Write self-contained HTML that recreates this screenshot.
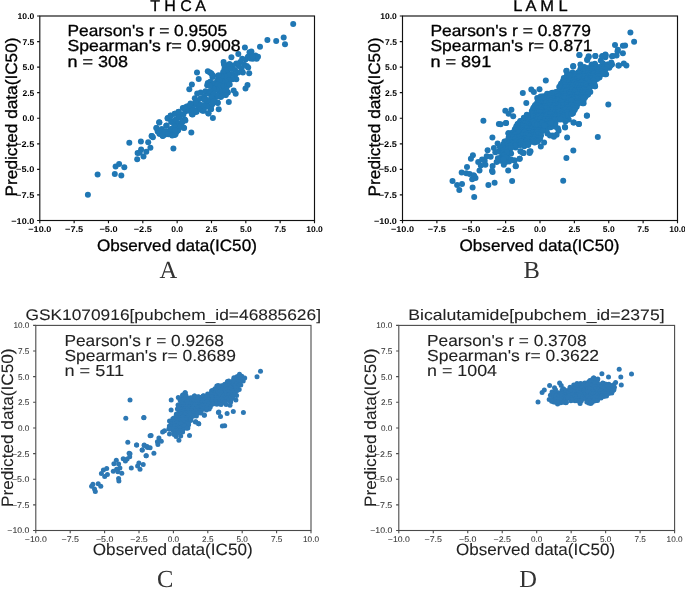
<!DOCTYPE html><html><head><meta charset="utf-8"><title>scatter</title><style>html,body{margin:0;padding:0;background:#fff}svg{display:block;will-change:transform}text{text-rendering:geometricPrecision;font-family:"Liberation Sans",sans-serif}.s{font-family:"Liberation Serif",serif}</style></head><body>
<svg width="685" height="593" viewBox="0 0 685 593">
<rect width="685" height="593" fill="#fff"/>
<g id="pA">
<clipPath id="cA"><rect x="39.8" y="16.0" width="274.7" height="204.5"/></clipPath>
<g fill="#1f77b4" clip-path="url(#cA)"><circle cx="87.9" cy="194.7" r="3.0"/><circle cx="97.6" cy="174.6" r="3.0"/><circle cx="114.8" cy="174.1" r="3.0"/><circle cx="121.3" cy="175.5" r="3.0"/><circle cx="115.6" cy="166.4" r="3.0"/><circle cx="119.1" cy="164.0" r="3.0"/><circle cx="124.3" cy="167.2" r="3.0"/><circle cx="129.3" cy="142.8" r="3.0"/><circle cx="137.2" cy="159.2" r="3.0"/><circle cx="143.5" cy="156.4" r="3.0"/><circle cx="137.6" cy="152.9" r="3.0"/><circle cx="139.7" cy="152.7" r="3.0"/><circle cx="141.1" cy="149.5" r="3.0"/><circle cx="146.3" cy="151.7" r="3.0"/><circle cx="150.4" cy="147.7" r="3.0"/><circle cx="140.9" cy="141.6" r="3.0"/><circle cx="148.2" cy="142.2" r="3.0"/><circle cx="151.6" cy="135.9" r="3.0"/><circle cx="152.9" cy="137.3" r="3.0"/><circle cx="173.4" cy="148.6" r="3.0"/><circle cx="159.9" cy="133.7" r="3.0"/><circle cx="162.8" cy="135.9" r="3.0"/><circle cx="165.0" cy="134.4" r="3.0"/><circle cx="171.6" cy="134.4" r="3.0"/><circle cx="174.6" cy="135.1" r="3.0"/><circle cx="176.8" cy="131.5" r="3.0"/><circle cx="168.0" cy="131.5" r="3.0"/><circle cx="157.7" cy="131.5" r="3.0"/><circle cx="197.0" cy="72.6" r="3.0"/><circle cx="198.7" cy="79.1" r="3.0"/><circle cx="191.9" cy="84.5" r="3.0"/><circle cx="189.3" cy="89.2" r="3.0"/><circle cx="159.2" cy="122.3" r="3.0"/><circle cx="156.5" cy="128.1" r="3.0"/><circle cx="191.3" cy="132.5" r="3.0"/><circle cx="212.9" cy="118.0" r="3.0"/><circle cx="218.7" cy="109.3" r="3.0"/><circle cx="228.8" cy="102.1" r="3.0"/><circle cx="151.8" cy="136.1" r="3.0"/><circle cx="159.4" cy="133.7" r="3.0"/><circle cx="163.0" cy="135.5" r="3.0"/><circle cx="165.3" cy="131.4" r="3.0"/><circle cx="161.8" cy="129.0" r="3.0"/><circle cx="166.5" cy="125.5" r="3.0"/><circle cx="170.1" cy="133.7" r="3.0"/><circle cx="173.6" cy="134.3" r="3.0"/><circle cx="172.4" cy="129.0" r="3.0"/><circle cx="177.1" cy="130.2" r="3.0"/><circle cx="175.4" cy="125.5" r="3.0"/><circle cx="171.2" cy="121.9" r="3.0"/><circle cx="167.7" cy="118.1" r="3.0"/><circle cx="170.6" cy="115.4" r="3.0"/><circle cx="174.8" cy="113.7" r="3.0"/><circle cx="178.3" cy="111.9" r="3.0"/><circle cx="178.9" cy="117.2" r="3.0"/><circle cx="181.9" cy="121.9" r="3.0"/><circle cx="183.6" cy="127.8" r="3.0"/><circle cx="179.5" cy="125.5" r="3.0"/><circle cx="176.0" cy="120.7" r="3.0"/><circle cx="184.8" cy="119.6" r="3.0"/><circle cx="181.9" cy="114.8" r="3.0"/><circle cx="184.2" cy="107.8" r="3.0"/><circle cx="187.8" cy="106.6" r="3.0"/><circle cx="185.4" cy="111.3" r="3.0"/><circle cx="188.9" cy="110.7" r="3.0"/><circle cx="191.9" cy="114.2" r="3.0"/><circle cx="195.4" cy="111.9" r="3.0"/><circle cx="192.5" cy="108.9" r="3.0"/><circle cx="197.8" cy="108.9" r="3.0"/><circle cx="202.5" cy="110.7" r="3.0"/><circle cx="208.4" cy="113.4" r="3.0"/><circle cx="210.8" cy="108.9" r="3.0"/><circle cx="206.6" cy="106.6" r="3.0"/><circle cx="194.8" cy="98.3" r="3.0"/><circle cx="197.2" cy="93.6" r="3.0"/><circle cx="200.7" cy="92.4" r="3.0"/><circle cx="205.5" cy="91.2" r="3.0"/><circle cx="207.8" cy="83.0" r="3.0"/><circle cx="210.2" cy="81.8" r="3.0"/><circle cx="207.2" cy="85.3" r="3.0"/><circle cx="212.5" cy="77.1" r="3.0"/><circle cx="211.4" cy="73.5" r="3.0"/><circle cx="207.8" cy="71.2" r="3.0"/><circle cx="217.8" cy="75.9" r="3.0"/><circle cx="223.2" cy="73.5" r="3.0"/><circle cx="226.7" cy="72.4" r="3.0"/><circle cx="227.9" cy="77.1" r="3.0"/><circle cx="197.2" cy="100.7" r="3.0"/><circle cx="200.7" cy="98.3" r="3.0"/><circle cx="204.3" cy="96.0" r="3.0"/><circle cx="209.0" cy="93.6" r="3.0"/><circle cx="213.7" cy="91.2" r="3.0"/><circle cx="217.3" cy="87.7" r="3.0"/><circle cx="220.8" cy="84.2" r="3.0"/><circle cx="224.3" cy="81.8" r="3.0"/><circle cx="226.7" cy="86.5" r="3.0"/><circle cx="223.2" cy="90.1" r="3.0"/><circle cx="219.6" cy="93.6" r="3.0"/><circle cx="216.1" cy="97.1" r="3.0"/><circle cx="211.4" cy="100.7" r="3.0"/><circle cx="206.6" cy="103.0" r="3.0"/><circle cx="201.9" cy="105.4" r="3.0"/><circle cx="198.4" cy="105.4" r="3.0"/><circle cx="194.8" cy="104.2" r="3.0"/><circle cx="211.4" cy="105.4" r="3.0"/><circle cx="214.9" cy="101.9" r="3.0"/><circle cx="217.8" cy="103.0" r="3.0"/><circle cx="220.8" cy="97.1" r="3.0"/><circle cx="225.5" cy="94.8" r="3.0"/><circle cx="227.9" cy="92.4" r="3.0"/><circle cx="213.7" cy="84.2" r="3.0"/><circle cx="217.3" cy="80.6" r="3.0"/><circle cx="222.0" cy="78.3" r="3.0"/><circle cx="225.5" cy="77.1" r="3.0"/><circle cx="293.2" cy="23.9" r="3.0"/><circle cx="283.7" cy="37.5" r="3.0"/><circle cx="285.0" cy="44.3" r="3.0"/><circle cx="276.2" cy="41.1" r="3.0"/><circle cx="267.4" cy="40.0" r="3.0"/><circle cx="260.0" cy="46.7" r="3.0"/><circle cx="244.9" cy="47.6" r="3.0"/><circle cx="238.3" cy="53.9" r="3.0"/><circle cx="231.4" cy="57.2" r="3.0"/><circle cx="223.6" cy="62.1" r="3.0"/><circle cx="247.5" cy="84.9" r="3.0"/><circle cx="245.5" cy="88.4" r="3.0"/><circle cx="233.7" cy="90.4" r="3.0"/><circle cx="235.7" cy="93.7" r="3.0"/><circle cx="249.2" cy="73.3" r="3.0"/><circle cx="248.2" cy="67.4" r="3.0"/><circle cx="249.5" cy="52.2" r="3.0"/><circle cx="251.4" cy="51.6" r="3.0"/><circle cx="255.4" cy="55.5" r="3.0"/><circle cx="258.0" cy="56.8" r="3.0"/><circle cx="256.7" cy="58.8" r="3.0"/><circle cx="252.8" cy="58.8" r="3.0"/><circle cx="248.2" cy="56.8" r="3.0"/><circle cx="245.5" cy="59.5" r="3.0"/><circle cx="242.2" cy="58.8" r="3.0"/><circle cx="240.3" cy="62.1" r="3.0"/><circle cx="244.2" cy="64.7" r="3.0"/><circle cx="246.8" cy="66.1" r="3.0"/><circle cx="241.6" cy="68.7" r="3.0"/><circle cx="242.9" cy="72.6" r="3.0"/><circle cx="238.9" cy="66.1" r="3.0"/><circle cx="236.3" cy="63.4" r="3.0"/><circle cx="233.0" cy="65.4" r="3.0"/><circle cx="229.7" cy="64.7" r="3.0"/><circle cx="226.4" cy="65.4" r="3.0"/><circle cx="224.5" cy="68.7" r="3.0"/><circle cx="223.2" cy="72.0" r="3.0"/><circle cx="227.8" cy="70.0" r="3.0"/><circle cx="231.1" cy="68.7" r="3.0"/><circle cx="235.0" cy="70.0" r="3.0"/><circle cx="238.3" cy="72.6" r="3.0"/><circle cx="235.0" cy="75.3" r="3.0"/><circle cx="231.7" cy="73.9" r="3.0"/><circle cx="228.4" cy="75.3" r="3.0"/><circle cx="225.1" cy="76.6" r="3.0"/><circle cx="221.8" cy="76.6" r="3.0"/><circle cx="218.6" cy="75.3" r="3.0"/><circle cx="236.3" cy="79.2" r="3.0"/><circle cx="232.4" cy="79.2" r="3.0"/><circle cx="229.1" cy="80.5" r="3.0"/><circle cx="225.8" cy="81.8" r="3.0"/><circle cx="222.5" cy="81.8" r="3.0"/><circle cx="219.2" cy="80.5" r="3.0"/><circle cx="212.6" cy="75.3" r="3.0"/><circle cx="210.0" cy="72.6" r="3.0"/><circle cx="213.9" cy="83.2" r="3.0"/><circle cx="217.2" cy="84.5" r="3.0"/><circle cx="220.5" cy="85.8" r="3.0"/><circle cx="223.8" cy="85.8" r="3.0"/><circle cx="227.1" cy="85.8" r="3.0"/><circle cx="229.7" cy="84.5" r="3.0"/><circle cx="226.4" cy="89.7" r="3.0"/><circle cx="223.2" cy="91.1" r="3.0"/><circle cx="219.9" cy="91.1" r="3.0"/><circle cx="216.6" cy="89.7" r="3.0"/><circle cx="213.3" cy="88.4" r="3.0"/><circle cx="210.0" cy="85.8" r="3.0"/><circle cx="210.0" cy="91.1" r="3.0"/><circle cx="213.9" cy="93.7" r="3.0"/><circle cx="217.9" cy="95.7" r="3.0"/><circle cx="221.8" cy="95.7" r="3.0"/><circle cx="225.8" cy="95.0" r="3.0"/><circle cx="211.3" cy="97.6" r="3.0"/><circle cx="159.3" cy="122.4" r="3.0"/><circle cx="156.4" cy="128.0" r="3.0"/><circle cx="159.7" cy="132.9" r="3.0"/><circle cx="162.4" cy="135.5" r="3.0"/><circle cx="165.0" cy="131.6" r="3.0"/><circle cx="166.3" cy="125.7" r="3.0"/><circle cx="167.6" cy="118.4" r="3.0"/><circle cx="170.9" cy="115.8" r="3.0"/><circle cx="174.9" cy="113.8" r="3.0"/><circle cx="178.8" cy="111.8" r="3.0"/><circle cx="182.8" cy="107.9" r="3.0"/><circle cx="186.7" cy="106.6" r="3.0"/><circle cx="171.6" cy="121.1" r="3.0"/><circle cx="175.5" cy="119.7" r="3.0"/><circle cx="179.5" cy="117.1" r="3.0"/><circle cx="183.4" cy="114.5" r="3.0"/><circle cx="185.4" cy="120.4" r="3.0"/><circle cx="182.1" cy="122.4" r="3.0"/><circle cx="178.2" cy="123.7" r="3.0"/><circle cx="174.2" cy="126.3" r="3.0"/><circle cx="170.9" cy="128.9" r="3.0"/><circle cx="168.3" cy="134.2" r="3.0"/><circle cx="172.2" cy="135.5" r="3.0"/><circle cx="175.5" cy="134.2" r="3.0"/><circle cx="178.2" cy="130.3" r="3.0"/><circle cx="180.8" cy="126.3" r="3.0"/><circle cx="184.1" cy="127.9" r="3.0"/><circle cx="174.9" cy="130.3" r="3.0"/><circle cx="190.0" cy="105.3" r="3.0"/><circle cx="192.6" cy="110.5" r="3.0"/><circle cx="192.6" cy="114.5" r="3.0"/><circle cx="196.6" cy="111.8" r="3.0"/><circle cx="200.5" cy="109.2" r="3.0"/><circle cx="203.8" cy="110.8" r="3.0"/><circle cx="208.4" cy="113.2" r="3.0"/><circle cx="211.1" cy="109.2" r="3.0"/><circle cx="207.1" cy="106.6" r="3.0"/><circle cx="203.2" cy="105.3" r="3.0"/><circle cx="199.2" cy="103.9" r="3.0"/><circle cx="195.3" cy="102.6" r="3.0"/><circle cx="212.4" cy="103.9" r="3.0"/><circle cx="217.6" cy="102.6" r="3.0"/><circle cx="213.7" cy="101.3" r="3.0"/><circle cx="205.0" cy="98.5" r="3.0"/><circle cx="207.5" cy="100.2" r="3.0"/><circle cx="248.0" cy="57.0" r="3.0"/><circle cx="250.5" cy="58.5" r="3.0"/><circle cx="252.5" cy="56.5" r="3.0"/><circle cx="224.0" cy="64.5" r="3.0"/><circle cx="229.5" cy="64.0" r="3.0"/><circle cx="204.5" cy="99.8" r="3.0"/><circle cx="190.5" cy="103.5" r="3.0"/></g>
<rect x="39.8" y="16.0" width="274.7" height="204.5" fill="none" stroke="#111" stroke-width="1.15"/>
<path d="M39.80 220.5v2.7M39.8 220.50h-2.7M74.14 220.5v2.7M39.8 194.94h-2.7M108.47 220.5v2.7M39.8 169.38h-2.7M142.81 220.5v2.7M39.8 143.81h-2.7M177.15 220.5v2.7M39.8 118.25h-2.7M211.49 220.5v2.7M39.8 92.69h-2.7M245.82 220.5v2.7M39.8 67.12h-2.7M280.16 220.5v2.7M39.8 41.56h-2.7M314.50 220.5v2.7M39.8 16.00h-2.7" stroke="#111" stroke-width="1.15" fill="none"/>
<g font-size="8.3" fill="#000" font-weight="bold">
<text x="28.3" y="232.0" textLength="23.0" lengthAdjust="spacingAndGlyphs">−10.0</text>
<text x="11.3" y="223.5" textLength="23.0" lengthAdjust="spacingAndGlyphs">−10.0</text>
<text x="65.0" y="232.0" textLength="18.2" lengthAdjust="spacingAndGlyphs">−7.5</text>
<text x="16.1" y="197.9" textLength="18.2" lengthAdjust="spacingAndGlyphs">−7.5</text>
<text x="99.4" y="232.0" textLength="18.2" lengthAdjust="spacingAndGlyphs">−5.0</text>
<text x="16.1" y="172.3" textLength="18.2" lengthAdjust="spacingAndGlyphs">−5.0</text>
<text x="133.7" y="232.0" textLength="18.2" lengthAdjust="spacingAndGlyphs">−2.5</text>
<text x="16.1" y="146.8" textLength="18.2" lengthAdjust="spacingAndGlyphs">−2.5</text>
<text x="171.2" y="232.0" textLength="11.9" lengthAdjust="spacingAndGlyphs">0.0</text>
<text x="22.4" y="121.2" textLength="11.9" lengthAdjust="spacingAndGlyphs">0.0</text>
<text x="205.5" y="232.0" textLength="11.9" lengthAdjust="spacingAndGlyphs">2.5</text>
<text x="22.4" y="95.7" textLength="11.9" lengthAdjust="spacingAndGlyphs">2.5</text>
<text x="239.9" y="232.0" textLength="11.9" lengthAdjust="spacingAndGlyphs">5.0</text>
<text x="22.4" y="70.1" textLength="11.9" lengthAdjust="spacingAndGlyphs">5.0</text>
<text x="274.2" y="232.0" textLength="11.9" lengthAdjust="spacingAndGlyphs">7.5</text>
<text x="22.4" y="44.5" textLength="11.9" lengthAdjust="spacingAndGlyphs">7.5</text>
<text x="306.2" y="232.0" textLength="16.7" lengthAdjust="spacingAndGlyphs">10.0</text>
<text x="17.6" y="19.0" textLength="16.7" lengthAdjust="spacingAndGlyphs">10.0</text>
</g>
<text x="150.2" y="11.2" font-size="15.7" fill="#000" stroke="#000" stroke-width="0.3" textLength="55.8" lengthAdjust="spacingAndGlyphs">T H C A</text>
<text x="67.5" y="36.3" font-size="16.0" fill="#000" stroke="#000" stroke-width="0.3" textLength="159.5" lengthAdjust="spacingAndGlyphs">Pearson&#39;s r = 0.9505</text>
<text x="67.5" y="51.4" font-size="16.0" fill="#000" stroke="#000" stroke-width="0.3" textLength="173.0" lengthAdjust="spacingAndGlyphs">Spearman&#39;s r= 0.9008</text>
<text x="67.5" y="66.7" font-size="16.0" fill="#000" stroke="#000" stroke-width="0.3" textLength="60.5" lengthAdjust="spacingAndGlyphs">n = 308</text>
<text x="96.9" y="250.6" font-size="16.5" fill="#000" stroke="#000" stroke-width="0.3" textLength="160.0" lengthAdjust="spacingAndGlyphs">Observed data(IC50)</text>
<text transform="translate(16.9 196.4) rotate(-90)" font-size="16.5" fill="#000" stroke="#000" stroke-width="0.3" textLength="158.9" lengthAdjust="spacingAndGlyphs">Predicted data(IC50)</text>
<text class="s" x="168.4" y="278.0" font-size="24.5" fill="#333" text-anchor="middle">A</text>
</g>
<g id="pB">
<clipPath id="cB"><rect x="402.5" y="16.0" width="275.0" height="204.5"/></clipPath>
<g fill="#1f77b4" clip-path="url(#cB)"><circle cx="483.4" cy="120.7" r="3.0"/><circle cx="498.9" cy="123.9" r="3.0"/><circle cx="506.1" cy="122.9" r="3.0"/><circle cx="492.4" cy="137.4" r="3.0"/><circle cx="508.4" cy="133.2" r="3.0"/><circle cx="497.6" cy="143.4" r="3.0"/><circle cx="487.6" cy="150.3" r="3.0"/><circle cx="493.9" cy="148.0" r="3.0"/><circle cx="472.9" cy="155.3" r="3.0"/><circle cx="470.9" cy="158.8" r="3.0"/><circle cx="467.0" cy="167.1" r="3.0"/><circle cx="461.7" cy="172.4" r="3.0"/><circle cx="466.3" cy="173.3" r="3.0"/><circle cx="469.6" cy="173.9" r="3.0"/><circle cx="473.6" cy="175.3" r="3.0"/><circle cx="475.5" cy="177.9" r="3.0"/><circle cx="472.2" cy="179.2" r="3.0"/><circle cx="474.2" cy="175.9" r="3.0"/><circle cx="452.5" cy="180.9" r="3.0"/><circle cx="457.1" cy="184.9" r="3.0"/><circle cx="462.0" cy="184.1" r="3.0"/><circle cx="459.3" cy="190.0" r="3.0"/><circle cx="472.6" cy="187.6" r="3.0"/><circle cx="474.2" cy="197.0" r="3.0"/><circle cx="488.4" cy="184.9" r="3.0"/><circle cx="494.6" cy="182.8" r="3.0"/><circle cx="512.1" cy="180.9" r="3.0"/><circle cx="508.2" cy="170.4" r="3.0"/><circle cx="515.7" cy="166.3" r="3.0"/><circle cx="519.6" cy="158.8" r="3.0"/><circle cx="514.3" cy="160.5" r="3.0"/><circle cx="520.9" cy="151.6" r="3.0"/><circle cx="523.6" cy="152.9" r="3.0"/><circle cx="529.5" cy="151.6" r="3.0"/><circle cx="479.5" cy="170.4" r="3.0"/><circle cx="478.2" cy="162.1" r="3.0"/><circle cx="482.1" cy="159.5" r="3.0"/><circle cx="484.7" cy="160.8" r="3.0"/><circle cx="485.4" cy="164.7" r="3.0"/><circle cx="480.8" cy="165.4" r="3.0"/><circle cx="486.7" cy="156.2" r="3.0"/><circle cx="490.7" cy="156.8" r="3.0"/><circle cx="492.6" cy="166.1" r="3.0"/><circle cx="492.0" cy="170.7" r="3.0"/><circle cx="492.6" cy="172.0" r="3.0"/><circle cx="496.6" cy="162.1" r="3.0"/><circle cx="500.5" cy="160.8" r="3.0"/><circle cx="503.8" cy="164.7" r="3.0"/><circle cx="505.8" cy="162.1" r="3.0"/><circle cx="509.1" cy="161.4" r="3.0"/><circle cx="511.1" cy="159.5" r="3.0"/><circle cx="501.2" cy="156.8" r="3.0"/><circle cx="497.9" cy="158.2" r="3.0"/><circle cx="504.5" cy="156.8" r="3.0"/><circle cx="507.8" cy="157.5" r="3.0"/><circle cx="495.3" cy="152.2" r="3.0"/><circle cx="498.6" cy="151.6" r="3.0"/><circle cx="501.8" cy="149.6" r="3.0"/><circle cx="505.1" cy="147.6" r="3.0"/><circle cx="508.4" cy="145.7" r="3.0"/><circle cx="511.7" cy="144.3" r="3.0"/><circle cx="509.7" cy="151.6" r="3.0"/><circle cx="511.1" cy="153.6" r="3.0"/><circle cx="506.4" cy="152.9" r="3.0"/><circle cx="503.2" cy="153.6" r="3.0"/><circle cx="499.9" cy="147.0" r="3.0"/><circle cx="515.7" cy="147.6" r="3.0"/><circle cx="517.0" cy="143.7" r="3.0"/><circle cx="520.3" cy="145.0" r="3.0"/><circle cx="524.2" cy="146.3" r="3.0"/><circle cx="528.2" cy="145.0" r="3.0"/><circle cx="509.7" cy="137.1" r="3.0"/><circle cx="513.0" cy="138.4" r="3.0"/><circle cx="516.3" cy="135.8" r="3.0"/><circle cx="518.9" cy="131.8" r="3.0"/><circle cx="521.6" cy="129.2" r="3.0"/><circle cx="517.6" cy="123.9" r="3.0"/><circle cx="520.3" cy="121.3" r="3.0"/><circle cx="524.2" cy="122.6" r="3.0"/><circle cx="528.2" cy="123.9" r="3.0"/><circle cx="525.5" cy="127.9" r="3.0"/><circle cx="529.5" cy="130.5" r="3.0"/><circle cx="524.2" cy="134.5" r="3.0"/><circle cx="528.2" cy="137.1" r="3.0"/><circle cx="520.3" cy="138.4" r="3.0"/><circle cx="524.2" cy="141.1" r="3.0"/><circle cx="529.5" cy="141.1" r="3.0"/><circle cx="513.7" cy="141.7" r="3.0"/><circle cx="517.6" cy="139.7" r="3.0"/><circle cx="511.7" cy="134.5" r="3.0"/><circle cx="522.8" cy="92.9" r="3.0"/><circle cx="526.3" cy="102.9" r="3.0"/><circle cx="505.3" cy="110.8" r="3.0"/><circle cx="511.4" cy="109.7" r="3.0"/><circle cx="508.6" cy="113.7" r="3.0"/><circle cx="513.2" cy="116.3" r="3.0"/><circle cx="505.9" cy="122.9" r="3.0"/><circle cx="500.7" cy="124.2" r="3.0"/><circle cx="508.6" cy="133.2" r="3.0"/><circle cx="586.8" cy="115.7" r="3.0"/><circle cx="578.9" cy="123.9" r="3.0"/><circle cx="573.9" cy="122.6" r="3.0"/><circle cx="565.1" cy="127.5" r="3.0"/><circle cx="567.1" cy="137.4" r="3.0"/><circle cx="573.3" cy="150.5" r="3.0"/><circle cx="566.4" cy="158.0" r="3.0"/><circle cx="565.5" cy="121.2" r="3.0"/><circle cx="568.7" cy="119.6" r="3.0"/><circle cx="583.6" cy="103.2" r="3.0"/><circle cx="530.5" cy="151.2" r="3.0"/><circle cx="529.6" cy="152.9" r="3.0"/><circle cx="520.4" cy="151.2" r="3.0"/><circle cx="523.0" cy="152.9" r="3.0"/><circle cx="519.7" cy="158.7" r="3.0"/><circle cx="514.7" cy="160.4" r="3.0"/><circle cx="515.8" cy="166.1" r="3.0"/><circle cx="544.1" cy="142.6" r="3.0"/><circle cx="540.8" cy="146.6" r="3.0"/><circle cx="557.9" cy="128.2" r="3.0"/><circle cx="558.6" cy="130.8" r="3.0"/><circle cx="556.6" cy="134.7" r="3.0"/><circle cx="553.9" cy="136.7" r="3.0"/><circle cx="550.0" cy="135.4" r="3.0"/><circle cx="547.4" cy="133.4" r="3.0"/><circle cx="546.7" cy="129.5" r="3.0"/><circle cx="630.4" cy="32.5" r="3.0"/><circle cx="634.1" cy="41.8" r="3.0"/><circle cx="615.0" cy="45.0" r="3.0"/><circle cx="622.9" cy="45.8" r="3.0"/><circle cx="625.1" cy="45.4" r="3.0"/><circle cx="617.9" cy="49.7" r="3.0"/><circle cx="622.9" cy="53.3" r="3.0"/><circle cx="616.6" cy="55.5" r="3.0"/><circle cx="612.0" cy="56.2" r="3.0"/><circle cx="605.4" cy="54.6" r="3.0"/><circle cx="602.1" cy="56.6" r="3.0"/><circle cx="605.4" cy="57.2" r="3.0"/><circle cx="595.3" cy="55.9" r="3.0"/><circle cx="588.7" cy="57.0" r="3.0"/><circle cx="587.2" cy="59.9" r="3.0"/><circle cx="579.5" cy="55.0" r="3.0"/><circle cx="573.2" cy="66.1" r="3.0"/><circle cx="566.3" cy="71.1" r="3.0"/><circle cx="618.9" cy="65.5" r="3.0"/><circle cx="623.8" cy="63.4" r="3.0"/><circle cx="626.4" cy="65.5" r="3.0"/><circle cx="572.5" cy="72.4" r="3.0"/><circle cx="580.4" cy="64.5" r="3.0"/><circle cx="584.3" cy="67.1" r="3.0"/><circle cx="581.1" cy="67.8" r="3.0"/><circle cx="591.6" cy="64.5" r="3.0"/><circle cx="594.9" cy="63.8" r="3.0"/><circle cx="592.9" cy="67.1" r="3.0"/><circle cx="600.8" cy="60.5" r="3.0"/><circle cx="602.8" cy="63.2" r="3.0"/><circle cx="607.4" cy="64.5" r="3.0"/><circle cx="611.3" cy="62.5" r="3.0"/><circle cx="612.0" cy="64.5" r="3.0"/><circle cx="609.3" cy="67.8" r="3.0"/><circle cx="605.4" cy="67.1" r="3.0"/><circle cx="606.1" cy="74.3" r="3.0"/><circle cx="602.1" cy="71.1" r="3.0"/><circle cx="598.2" cy="68.4" r="3.0"/><circle cx="599.5" cy="77.6" r="3.0"/><circle cx="595.5" cy="76.3" r="3.0"/><circle cx="594.9" cy="86.2" r="3.0"/><circle cx="590.9" cy="82.9" r="3.0"/><circle cx="590.3" cy="92.1" r="3.0"/><circle cx="587.6" cy="94.7" r="3.0"/><circle cx="583.7" cy="100.0" r="3.0"/><circle cx="581.1" cy="102.6" r="3.0"/><circle cx="579.3" cy="55.0" r="3.0"/><circle cx="588.6" cy="56.3" r="3.0"/><circle cx="587.2" cy="59.5" r="3.0"/><circle cx="595.4" cy="55.9" r="3.0"/><circle cx="602.4" cy="55.9" r="3.0"/><circle cx="605.7" cy="55.3" r="3.0"/><circle cx="612.9" cy="55.9" r="3.0"/><circle cx="617.5" cy="51.3" r="3.0"/><circle cx="618.4" cy="65.5" r="3.0"/><circle cx="573.2" cy="66.4" r="3.0"/><circle cx="566.6" cy="70.8" r="3.0"/><circle cx="545.8" cy="80.5" r="3.0"/><circle cx="539.5" cy="89.2" r="3.0"/><circle cx="533.9" cy="92.1" r="3.0"/><circle cx="531.3" cy="89.5" r="3.0"/><circle cx="608.3" cy="104.6" r="3.0"/><circle cx="587.0" cy="115.4" r="3.0"/><circle cx="565.3" cy="121.1" r="3.0"/><circle cx="573.4" cy="122.4" r="3.0"/><circle cx="578.9" cy="123.9" r="3.0"/><circle cx="564.9" cy="127.0" r="3.0"/><circle cx="582.6" cy="103.3" r="3.0"/><circle cx="595.1" cy="86.2" r="3.0"/><circle cx="537.2" cy="98.0" r="3.0"/><circle cx="605.0" cy="74.3" r="3.0"/><circle cx="610.3" cy="65.8" r="3.0"/><circle cx="550.7" cy="127.2" r="3.0"/><circle cx="555.3" cy="126.8" r="3.0"/><circle cx="552.6" cy="135.4" r="3.0"/><circle cx="582.9" cy="71.5" r="3.0"/><circle cx="584.1" cy="71.4" r="3.0"/><circle cx="587.9" cy="71.3" r="3.0"/><circle cx="589.5" cy="71.4" r="3.0"/><circle cx="572.3" cy="73.3" r="3.0"/><circle cx="576.3" cy="73.5" r="3.0"/><circle cx="578.4" cy="72.2" r="3.0"/><circle cx="581.2" cy="72.2" r="3.0"/><circle cx="583.9" cy="72.2" r="3.0"/><circle cx="586.9" cy="72.9" r="3.0"/><circle cx="588.1" cy="72.2" r="3.0"/><circle cx="590.8" cy="73.3" r="3.0"/><circle cx="593.4" cy="72.2" r="3.0"/><circle cx="596.9" cy="72.3" r="3.0"/><circle cx="598.4" cy="72.4" r="3.0"/><circle cx="601.0" cy="72.5" r="3.0"/><circle cx="569.9" cy="74.8" r="3.0"/><circle cx="571.7" cy="75.3" r="3.0"/><circle cx="574.2" cy="74.7" r="3.0"/><circle cx="577.6" cy="74.5" r="3.0"/><circle cx="579.2" cy="75.5" r="3.0"/><circle cx="581.7" cy="74.3" r="3.0"/><circle cx="583.9" cy="75.6" r="3.0"/><circle cx="587.3" cy="75.0" r="3.0"/><circle cx="590.5" cy="75.5" r="3.0"/><circle cx="592.0" cy="74.7" r="3.0"/><circle cx="595.8" cy="75.0" r="3.0"/><circle cx="597.8" cy="75.0" r="3.0"/><circle cx="564.8" cy="78.3" r="3.0"/><circle cx="567.3" cy="77.6" r="3.0"/><circle cx="571.1" cy="77.5" r="3.0"/><circle cx="573.7" cy="77.8" r="3.0"/><circle cx="576.1" cy="76.8" r="3.0"/><circle cx="577.8" cy="78.1" r="3.0"/><circle cx="580.6" cy="77.9" r="3.0"/><circle cx="583.6" cy="78.3" r="3.0"/><circle cx="586.1" cy="78.3" r="3.0"/><circle cx="589.2" cy="77.8" r="3.0"/><circle cx="592.0" cy="77.8" r="3.0"/><circle cx="593.7" cy="78.0" r="3.0"/><circle cx="596.8" cy="77.6" r="3.0"/><circle cx="564.7" cy="79.1" r="3.0"/><circle cx="566.3" cy="79.3" r="3.0"/><circle cx="569.7" cy="80.0" r="3.0"/><circle cx="571.6" cy="79.0" r="3.0"/><circle cx="574.3" cy="80.4" r="3.0"/><circle cx="577.6" cy="79.4" r="3.0"/><circle cx="580.4" cy="79.4" r="3.0"/><circle cx="582.9" cy="79.0" r="3.0"/><circle cx="583.9" cy="79.9" r="3.0"/><circle cx="587.0" cy="79.9" r="3.0"/><circle cx="589.9" cy="79.2" r="3.0"/><circle cx="593.2" cy="78.9" r="3.0"/><circle cx="594.7" cy="79.9" r="3.0"/><circle cx="563.1" cy="82.7" r="3.0"/><circle cx="565.3" cy="82.9" r="3.0"/><circle cx="567.6" cy="82.7" r="3.0"/><circle cx="571.2" cy="82.2" r="3.0"/><circle cx="573.0" cy="82.2" r="3.0"/><circle cx="575.9" cy="81.5" r="3.0"/><circle cx="579.1" cy="82.4" r="3.0"/><circle cx="581.6" cy="82.6" r="3.0"/><circle cx="582.8" cy="81.1" r="3.0"/><circle cx="585.6" cy="82.5" r="3.0"/><circle cx="589.4" cy="81.5" r="3.0"/><circle cx="590.9" cy="81.1" r="3.0"/><circle cx="593.5" cy="81.4" r="3.0"/><circle cx="563.4" cy="84.3" r="3.0"/><circle cx="566.8" cy="84.8" r="3.0"/><circle cx="568.5" cy="84.3" r="3.0"/><circle cx="571.2" cy="84.5" r="3.0"/><circle cx="575.0" cy="83.7" r="3.0"/><circle cx="576.1" cy="83.9" r="3.0"/><circle cx="580.2" cy="83.4" r="3.0"/><circle cx="581.4" cy="84.0" r="3.0"/><circle cx="584.5" cy="84.9" r="3.0"/><circle cx="586.4" cy="85.0" r="3.0"/><circle cx="589.5" cy="85.1" r="3.0"/><circle cx="564.9" cy="87.0" r="3.0"/><circle cx="567.8" cy="85.8" r="3.0"/><circle cx="570.4" cy="86.7" r="3.0"/><circle cx="573.8" cy="87.2" r="3.0"/><circle cx="576.3" cy="86.9" r="3.0"/><circle cx="578.7" cy="86.6" r="3.0"/><circle cx="581.0" cy="86.9" r="3.0"/><circle cx="583.4" cy="86.4" r="3.0"/><circle cx="586.1" cy="86.3" r="3.0"/><circle cx="588.4" cy="86.4" r="3.0"/><circle cx="564.1" cy="88.8" r="3.0"/><circle cx="566.8" cy="88.7" r="3.0"/><circle cx="568.7" cy="88.3" r="3.0"/><circle cx="570.9" cy="89.4" r="3.0"/><circle cx="574.5" cy="88.5" r="3.0"/><circle cx="577.1" cy="89.6" r="3.0"/><circle cx="579.7" cy="88.2" r="3.0"/><circle cx="581.4" cy="88.6" r="3.0"/><circle cx="585.3" cy="88.9" r="3.0"/><circle cx="587.4" cy="87.9" r="3.0"/><circle cx="566.0" cy="90.2" r="3.0"/><circle cx="568.7" cy="91.9" r="3.0"/><circle cx="570.8" cy="90.8" r="3.0"/><circle cx="573.8" cy="91.6" r="3.0"/><circle cx="575.4" cy="91.1" r="3.0"/><circle cx="578.2" cy="90.3" r="3.0"/><circle cx="581.5" cy="90.2" r="3.0"/><circle cx="582.6" cy="91.5" r="3.0"/><circle cx="586.3" cy="91.4" r="3.0"/><circle cx="587.8" cy="90.8" r="3.0"/><circle cx="564.2" cy="93.4" r="3.0"/><circle cx="566.8" cy="93.3" r="3.0"/><circle cx="569.8" cy="93.3" r="3.0"/><circle cx="572.2" cy="92.6" r="3.0"/><circle cx="574.1" cy="93.4" r="3.0"/><circle cx="577.4" cy="92.5" r="3.0"/><circle cx="579.8" cy="94.1" r="3.0"/><circle cx="581.7" cy="93.2" r="3.0"/><circle cx="584.9" cy="93.9" r="3.0"/><circle cx="563.0" cy="94.9" r="3.0"/><circle cx="565.0" cy="95.0" r="3.0"/><circle cx="568.1" cy="95.2" r="3.0"/><circle cx="571.0" cy="95.0" r="3.0"/><circle cx="572.4" cy="96.1" r="3.0"/><circle cx="576.2" cy="96.4" r="3.0"/><circle cx="577.5" cy="95.3" r="3.0"/><circle cx="580.7" cy="95.1" r="3.0"/><circle cx="583.9" cy="95.3" r="3.0"/><circle cx="564.2" cy="97.8" r="3.0"/><circle cx="567.0" cy="98.3" r="3.0"/><circle cx="569.8" cy="97.8" r="3.0"/><circle cx="571.4" cy="97.6" r="3.0"/><circle cx="573.9" cy="97.1" r="3.0"/><circle cx="576.2" cy="97.7" r="3.0"/><circle cx="579.4" cy="98.3" r="3.0"/><circle cx="581.7" cy="97.3" r="3.0"/><circle cx="570.6" cy="100.2" r="3.0"/><circle cx="572.3" cy="100.2" r="3.0"/><circle cx="575.5" cy="99.5" r="3.0"/><circle cx="578.3" cy="99.2" r="3.0"/><circle cx="552.4" cy="92.7" r="3.0"/><circle cx="562.9" cy="92.7" r="3.0"/><circle cx="580.0" cy="93.1" r="3.0"/><circle cx="547.1" cy="93.7" r="3.0"/><circle cx="550.1" cy="94.7" r="3.0"/><circle cx="552.4" cy="95.4" r="3.0"/><circle cx="554.8" cy="94.3" r="3.0"/><circle cx="556.6" cy="93.9" r="3.0"/><circle cx="559.4" cy="93.9" r="3.0"/><circle cx="563.0" cy="95.3" r="3.0"/><circle cx="565.3" cy="94.0" r="3.0"/><circle cx="567.1" cy="94.0" r="3.0"/><circle cx="569.8" cy="94.9" r="3.0"/><circle cx="572.0" cy="94.9" r="3.0"/><circle cx="574.8" cy="93.7" r="3.0"/><circle cx="578.8" cy="94.6" r="3.0"/><circle cx="581.5" cy="95.4" r="3.0"/><circle cx="582.7" cy="95.3" r="3.0"/><circle cx="585.9" cy="94.9" r="3.0"/><circle cx="543.1" cy="96.2" r="3.0"/><circle cx="545.0" cy="96.4" r="3.0"/><circle cx="548.1" cy="97.6" r="3.0"/><circle cx="550.8" cy="96.1" r="3.0"/><circle cx="553.7" cy="96.4" r="3.0"/><circle cx="556.2" cy="97.1" r="3.0"/><circle cx="558.6" cy="97.6" r="3.0"/><circle cx="561.2" cy="96.4" r="3.0"/><circle cx="564.0" cy="96.2" r="3.0"/><circle cx="565.7" cy="96.9" r="3.0"/><circle cx="569.2" cy="96.9" r="3.0"/><circle cx="570.9" cy="96.0" r="3.0"/><circle cx="574.6" cy="97.1" r="3.0"/><circle cx="575.9" cy="96.1" r="3.0"/><circle cx="579.3" cy="96.9" r="3.0"/><circle cx="581.7" cy="96.8" r="3.0"/><circle cx="541.6" cy="99.7" r="3.0"/><circle cx="543.8" cy="99.8" r="3.0"/><circle cx="546.4" cy="98.4" r="3.0"/><circle cx="549.4" cy="98.9" r="3.0"/><circle cx="552.0" cy="99.9" r="3.0"/><circle cx="555.0" cy="98.7" r="3.0"/><circle cx="556.7" cy="98.7" r="3.0"/><circle cx="559.1" cy="98.3" r="3.0"/><circle cx="563.1" cy="99.7" r="3.0"/><circle cx="565.6" cy="99.6" r="3.0"/><circle cx="568.2" cy="99.0" r="3.0"/><circle cx="569.4" cy="99.5" r="3.0"/><circle cx="572.3" cy="99.2" r="3.0"/><circle cx="575.8" cy="99.5" r="3.0"/><circle cx="578.0" cy="98.5" r="3.0"/><circle cx="580.8" cy="99.8" r="3.0"/><circle cx="537.8" cy="101.2" r="3.0"/><circle cx="539.9" cy="101.2" r="3.0"/><circle cx="543.6" cy="100.5" r="3.0"/><circle cx="544.7" cy="101.3" r="3.0"/><circle cx="548.5" cy="101.0" r="3.0"/><circle cx="550.9" cy="101.7" r="3.0"/><circle cx="553.3" cy="102.2" r="3.0"/><circle cx="556.8" cy="102.2" r="3.0"/><circle cx="557.9" cy="102.1" r="3.0"/><circle cx="560.9" cy="100.7" r="3.0"/><circle cx="563.1" cy="101.9" r="3.0"/><circle cx="566.7" cy="101.6" r="3.0"/><circle cx="569.2" cy="101.6" r="3.0"/><circle cx="572.0" cy="101.6" r="3.0"/><circle cx="574.3" cy="101.4" r="3.0"/><circle cx="576.7" cy="100.5" r="3.0"/><circle cx="580.0" cy="101.5" r="3.0"/><circle cx="537.2" cy="103.1" r="3.0"/><circle cx="539.2" cy="104.4" r="3.0"/><circle cx="541.0" cy="104.3" r="3.0"/><circle cx="544.8" cy="103.4" r="3.0"/><circle cx="546.9" cy="103.1" r="3.0"/><circle cx="550.0" cy="103.5" r="3.0"/><circle cx="552.1" cy="103.7" r="3.0"/><circle cx="554.9" cy="103.6" r="3.0"/><circle cx="557.9" cy="102.7" r="3.0"/><circle cx="559.1" cy="103.4" r="3.0"/><circle cx="562.7" cy="104.3" r="3.0"/><circle cx="564.5" cy="103.4" r="3.0"/><circle cx="567.5" cy="103.1" r="3.0"/><circle cx="569.9" cy="102.8" r="3.0"/><circle cx="572.2" cy="103.2" r="3.0"/><circle cx="575.2" cy="103.8" r="3.0"/><circle cx="577.6" cy="104.0" r="3.0"/><circle cx="534.6" cy="106.2" r="3.0"/><circle cx="538.1" cy="105.9" r="3.0"/><circle cx="540.5" cy="105.5" r="3.0"/><circle cx="543.3" cy="105.5" r="3.0"/><circle cx="546.1" cy="105.9" r="3.0"/><circle cx="547.5" cy="106.1" r="3.0"/><circle cx="550.5" cy="105.6" r="3.0"/><circle cx="554.0" cy="106.4" r="3.0"/><circle cx="556.5" cy="106.5" r="3.0"/><circle cx="558.6" cy="106.5" r="3.0"/><circle cx="561.2" cy="105.8" r="3.0"/><circle cx="563.7" cy="105.9" r="3.0"/><circle cx="565.4" cy="105.3" r="3.0"/><circle cx="568.1" cy="105.4" r="3.0"/><circle cx="571.0" cy="106.7" r="3.0"/><circle cx="573.6" cy="105.1" r="3.0"/><circle cx="576.7" cy="106.7" r="3.0"/><circle cx="533.6" cy="107.9" r="3.0"/><circle cx="536.2" cy="108.5" r="3.0"/><circle cx="539.4" cy="107.5" r="3.0"/><circle cx="542.3" cy="108.3" r="3.0"/><circle cx="544.2" cy="108.6" r="3.0"/><circle cx="547.4" cy="108.8" r="3.0"/><circle cx="550.2" cy="108.7" r="3.0"/><circle cx="551.8" cy="108.0" r="3.0"/><circle cx="554.1" cy="108.6" r="3.0"/><circle cx="557.1" cy="107.8" r="3.0"/><circle cx="560.4" cy="109.0" r="3.0"/><circle cx="561.5" cy="108.8" r="3.0"/><circle cx="564.9" cy="107.7" r="3.0"/><circle cx="568.0" cy="108.5" r="3.0"/><circle cx="569.8" cy="108.2" r="3.0"/><circle cx="573.3" cy="109.0" r="3.0"/><circle cx="531.8" cy="111.0" r="3.0"/><circle cx="534.6" cy="111.2" r="3.0"/><circle cx="538.4" cy="110.8" r="3.0"/><circle cx="540.6" cy="110.7" r="3.0"/><circle cx="542.9" cy="110.5" r="3.0"/><circle cx="545.7" cy="110.8" r="3.0"/><circle cx="548.3" cy="110.4" r="3.0"/><circle cx="550.9" cy="110.3" r="3.0"/><circle cx="552.9" cy="109.5" r="3.0"/><circle cx="555.1" cy="111.0" r="3.0"/><circle cx="558.1" cy="110.1" r="3.0"/><circle cx="561.4" cy="110.9" r="3.0"/><circle cx="564.5" cy="111.1" r="3.0"/><circle cx="565.5" cy="111.2" r="3.0"/><circle cx="568.8" cy="110.1" r="3.0"/><circle cx="571.2" cy="110.2" r="3.0"/><circle cx="574.1" cy="110.1" r="3.0"/><circle cx="532.0" cy="113.1" r="3.0"/><circle cx="534.5" cy="113.4" r="3.0"/><circle cx="537.2" cy="112.1" r="3.0"/><circle cx="538.6" cy="113.5" r="3.0"/><circle cx="541.6" cy="113.0" r="3.0"/><circle cx="543.9" cy="112.9" r="3.0"/><circle cx="547.0" cy="112.2" r="3.0"/><circle cx="550.1" cy="112.2" r="3.0"/><circle cx="551.6" cy="111.8" r="3.0"/><circle cx="555.1" cy="111.9" r="3.0"/><circle cx="556.7" cy="112.5" r="3.0"/><circle cx="559.8" cy="112.7" r="3.0"/><circle cx="563.1" cy="112.1" r="3.0"/><circle cx="565.6" cy="112.2" r="3.0"/><circle cx="568.2" cy="113.1" r="3.0"/><circle cx="571.0" cy="111.9" r="3.0"/><circle cx="572.4" cy="112.0" r="3.0"/><circle cx="526.8" cy="114.7" r="3.0"/><circle cx="530.2" cy="115.1" r="3.0"/><circle cx="531.9" cy="114.5" r="3.0"/><circle cx="535.9" cy="114.8" r="3.0"/><circle cx="537.9" cy="114.3" r="3.0"/><circle cx="540.5" cy="115.2" r="3.0"/><circle cx="543.1" cy="114.9" r="3.0"/><circle cx="545.7" cy="115.2" r="3.0"/><circle cx="548.4" cy="115.6" r="3.0"/><circle cx="550.7" cy="114.9" r="3.0"/><circle cx="552.6" cy="114.9" r="3.0"/><circle cx="555.9" cy="114.6" r="3.0"/><circle cx="557.9" cy="114.4" r="3.0"/><circle cx="561.3" cy="114.7" r="3.0"/><circle cx="564.4" cy="114.1" r="3.0"/><circle cx="566.5" cy="114.6" r="3.0"/><circle cx="523.8" cy="117.7" r="3.0"/><circle cx="525.3" cy="117.7" r="3.0"/><circle cx="528.6" cy="116.8" r="3.0"/><circle cx="531.7" cy="117.0" r="3.0"/><circle cx="533.7" cy="116.4" r="3.0"/><circle cx="535.7" cy="117.6" r="3.0"/><circle cx="539.4" cy="117.3" r="3.0"/><circle cx="540.9" cy="116.4" r="3.0"/><circle cx="543.5" cy="117.3" r="3.0"/><circle cx="546.4" cy="117.7" r="3.0"/><circle cx="549.1" cy="117.7" r="3.0"/><circle cx="552.4" cy="117.8" r="3.0"/><circle cx="555.1" cy="117.9" r="3.0"/><circle cx="557.2" cy="116.4" r="3.0"/><circle cx="525.0" cy="119.6" r="3.0"/><circle cx="527.4" cy="120.2" r="3.0"/><circle cx="530.4" cy="120.0" r="3.0"/><circle cx="533.0" cy="119.3" r="3.0"/><circle cx="534.9" cy="119.6" r="3.0"/><circle cx="538.0" cy="118.6" r="3.0"/><circle cx="539.5" cy="119.0" r="3.0"/><circle cx="542.0" cy="118.7" r="3.0"/><circle cx="544.6" cy="118.9" r="3.0"/><circle cx="548.1" cy="118.8" r="3.0"/><circle cx="549.9" cy="120.1" r="3.0"/><circle cx="552.5" cy="120.3" r="3.0"/><circle cx="520.4" cy="120.9" r="3.0"/><circle cx="523.8" cy="121.3" r="3.0"/><circle cx="526.2" cy="122.0" r="3.0"/><circle cx="528.3" cy="121.9" r="3.0"/><circle cx="531.7" cy="121.9" r="3.0"/><circle cx="533.9" cy="122.4" r="3.0"/><circle cx="536.2" cy="121.4" r="3.0"/><circle cx="538.5" cy="122.0" r="3.0"/><circle cx="541.0" cy="122.1" r="3.0"/><circle cx="544.8" cy="122.0" r="3.0"/><circle cx="546.9" cy="122.1" r="3.0"/><circle cx="549.6" cy="121.5" r="3.0"/><circle cx="552.7" cy="121.8" r="3.0"/><circle cx="553.8" cy="121.9" r="3.0"/><circle cx="518.8" cy="123.3" r="3.0"/><circle cx="521.9" cy="124.7" r="3.0"/><circle cx="524.9" cy="123.6" r="3.0"/><circle cx="528.1" cy="123.9" r="3.0"/><circle cx="529.6" cy="124.6" r="3.0"/><circle cx="533.3" cy="124.5" r="3.0"/><circle cx="534.5" cy="123.9" r="3.0"/><circle cx="538.1" cy="123.2" r="3.0"/><circle cx="541.0" cy="124.5" r="3.0"/><circle cx="542.8" cy="123.9" r="3.0"/><circle cx="546.3" cy="123.6" r="3.0"/><circle cx="547.4" cy="123.9" r="3.0"/><circle cx="551.1" cy="123.3" r="3.0"/><circle cx="552.7" cy="124.0" r="3.0"/><circle cx="555.3" cy="123.6" r="3.0"/><circle cx="516.3" cy="126.3" r="3.0"/><circle cx="517.8" cy="126.8" r="3.0"/><circle cx="520.8" cy="125.5" r="3.0"/><circle cx="522.9" cy="126.3" r="3.0"/><circle cx="525.7" cy="126.8" r="3.0"/><circle cx="529.1" cy="126.7" r="3.0"/><circle cx="531.4" cy="125.5" r="3.0"/><circle cx="533.7" cy="125.4" r="3.0"/><circle cx="536.3" cy="125.9" r="3.0"/><circle cx="539.7" cy="126.9" r="3.0"/><circle cx="540.7" cy="125.5" r="3.0"/><circle cx="543.3" cy="125.6" r="3.0"/><circle cx="547.3" cy="125.4" r="3.0"/><circle cx="514.8" cy="129.3" r="3.0"/><circle cx="516.2" cy="127.9" r="3.0"/><circle cx="519.2" cy="129.0" r="3.0"/><circle cx="522.9" cy="128.5" r="3.0"/><circle cx="525.3" cy="129.2" r="3.0"/><circle cx="527.6" cy="127.9" r="3.0"/><circle cx="530.8" cy="128.2" r="3.0"/><circle cx="532.4" cy="128.2" r="3.0"/><circle cx="535.7" cy="128.3" r="3.0"/><circle cx="538.2" cy="129.3" r="3.0"/><circle cx="540.4" cy="128.9" r="3.0"/><circle cx="542.4" cy="128.7" r="3.0"/><circle cx="516.0" cy="130.8" r="3.0"/><circle cx="519.0" cy="129.9" r="3.0"/><circle cx="519.9" cy="131.5" r="3.0"/><circle cx="523.6" cy="130.8" r="3.0"/><circle cx="525.4" cy="131.3" r="3.0"/><circle cx="528.8" cy="131.2" r="3.0"/><circle cx="531.1" cy="131.4" r="3.0"/><circle cx="534.0" cy="130.5" r="3.0"/><circle cx="536.5" cy="130.5" r="3.0"/><circle cx="538.5" cy="130.6" r="3.0"/><circle cx="542.4" cy="131.1" r="3.0"/><circle cx="512.1" cy="132.7" r="3.0"/><circle cx="513.4" cy="132.7" r="3.0"/><circle cx="516.3" cy="132.7" r="3.0"/><circle cx="518.7" cy="132.3" r="3.0"/><circle cx="522.8" cy="133.8" r="3.0"/><circle cx="524.7" cy="132.1" r="3.0"/><circle cx="527.8" cy="133.5" r="3.0"/><circle cx="529.1" cy="133.6" r="3.0"/><circle cx="532.9" cy="132.5" r="3.0"/><circle cx="534.7" cy="132.7" r="3.0"/><circle cx="536.9" cy="132.3" r="3.0"/><circle cx="540.5" cy="132.8" r="3.0"/><circle cx="510.8" cy="136.1" r="3.0"/><circle cx="512.4" cy="135.1" r="3.0"/><circle cx="515.2" cy="134.5" r="3.0"/><circle cx="519.0" cy="136.1" r="3.0"/><circle cx="521.7" cy="136.1" r="3.0"/><circle cx="522.9" cy="134.9" r="3.0"/><circle cx="526.3" cy="134.5" r="3.0"/><circle cx="528.0" cy="134.9" r="3.0"/><circle cx="530.9" cy="135.0" r="3.0"/><circle cx="533.7" cy="135.3" r="3.0"/><circle cx="536.5" cy="134.9" r="3.0"/><circle cx="538.1" cy="134.4" r="3.0"/><circle cx="541.0" cy="135.6" r="3.0"/><circle cx="508.7" cy="137.2" r="3.0"/><circle cx="511.5" cy="136.8" r="3.0"/><circle cx="513.4" cy="137.0" r="3.0"/><circle cx="516.8" cy="137.3" r="3.0"/><circle cx="518.8" cy="137.0" r="3.0"/><circle cx="522.4" cy="138.0" r="3.0"/><circle cx="525.6" cy="138.2" r="3.0"/><circle cx="526.9" cy="138.4" r="3.0"/><circle cx="529.7" cy="136.7" r="3.0"/><circle cx="533.1" cy="138.1" r="3.0"/><circle cx="535.3" cy="137.2" r="3.0"/><circle cx="538.4" cy="138.0" r="3.0"/><circle cx="540.1" cy="138.4" r="3.0"/><circle cx="508.7" cy="140.1" r="3.0"/><circle cx="511.2" cy="140.0" r="3.0"/><circle cx="512.3" cy="139.5" r="3.0"/><circle cx="515.1" cy="139.3" r="3.0"/><circle cx="518.9" cy="140.0" r="3.0"/><circle cx="521.1" cy="139.5" r="3.0"/><circle cx="523.3" cy="140.4" r="3.0"/><circle cx="526.6" cy="140.3" r="3.0"/><circle cx="528.3" cy="138.9" r="3.0"/><circle cx="532.0" cy="139.6" r="3.0"/><circle cx="533.5" cy="139.4" r="3.0"/><circle cx="536.8" cy="140.5" r="3.0"/><circle cx="538.8" cy="140.0" r="3.0"/><circle cx="504.5" cy="141.6" r="3.0"/><circle cx="506.7" cy="141.1" r="3.0"/><circle cx="509.4" cy="142.3" r="3.0"/><circle cx="512.0" cy="142.8" r="3.0"/><circle cx="515.1" cy="141.8" r="3.0"/><circle cx="516.0" cy="141.9" r="3.0"/><circle cx="519.5" cy="142.3" r="3.0"/><circle cx="521.2" cy="141.5" r="3.0"/><circle cx="525.1" cy="142.6" r="3.0"/><circle cx="526.7" cy="141.2" r="3.0"/><circle cx="529.3" cy="142.6" r="3.0"/><circle cx="533.4" cy="141.7" r="3.0"/><circle cx="534.6" cy="142.5" r="3.0"/><circle cx="537.4" cy="141.8" r="3.0"/><circle cx="503.1" cy="144.5" r="3.0"/><circle cx="505.5" cy="145.0" r="3.0"/><circle cx="508.3" cy="144.3" r="3.0"/><circle cx="510.4" cy="144.9" r="3.0"/><circle cx="513.5" cy="143.8" r="3.0"/><circle cx="515.5" cy="144.5" r="3.0"/><circle cx="518.6" cy="145.1" r="3.0"/><circle cx="521.7" cy="143.8" r="3.0"/><circle cx="523.6" cy="144.4" r="3.0"/><circle cx="525.3" cy="145.0" r="3.0"/><circle cx="528.1" cy="143.9" r="3.0"/><circle cx="504.0" cy="146.8" r="3.0"/><circle cx="506.0" cy="147.1" r="3.0"/><circle cx="508.6" cy="146.8" r="3.0"/><circle cx="510.9" cy="145.7" r="3.0"/><circle cx="515.0" cy="145.8" r="3.0"/><circle cx="503.1" cy="148.1" r="3.0"/><circle cx="504.4" cy="149.3" r="3.0"/><circle cx="508.1" cy="149.0" r="3.0"/><circle cx="511.1" cy="147.9" r="3.0"/><circle cx="503.0" cy="150.7" r="3.0"/><circle cx="506.2" cy="150.8" r="3.0"/><circle cx="503.3" cy="152.7" r="3.0"/><circle cx="505.1" cy="154.2" r="3.0"/><circle cx="506.9" cy="152.6" r="3.0"/><circle cx="504.0" cy="155.4" r="3.0"/><circle cx="503.4" cy="158.3" r="3.0"/><circle cx="505.6" cy="157.8" r="3.0"/><circle cx="503.3" cy="159.6" r="3.0"/><circle cx="595.3" cy="65.3" r="3.0"/><circle cx="604.9" cy="65.2" r="3.0"/><circle cx="608.3" cy="64.5" r="3.0"/><circle cx="610.0" cy="65.2" r="3.0"/><circle cx="581.5" cy="67.8" r="3.0"/><circle cx="588.0" cy="68.1" r="3.0"/><circle cx="591.9" cy="68.0" r="3.0"/><circle cx="593.4" cy="67.9" r="3.0"/><circle cx="596.7" cy="67.1" r="3.0"/><circle cx="599.6" cy="66.9" r="3.0"/><circle cx="600.8" cy="67.8" r="3.0"/><circle cx="604.5" cy="67.6" r="3.0"/><circle cx="606.9" cy="67.2" r="3.0"/><circle cx="580.3" cy="69.3" r="3.0"/><circle cx="581.5" cy="68.7" r="3.0"/><circle cx="584.5" cy="69.6" r="3.0"/><circle cx="587.2" cy="69.9" r="3.0"/><circle cx="589.9" cy="69.5" r="3.0"/><circle cx="592.7" cy="69.4" r="3.0"/><circle cx="595.1" cy="68.9" r="3.0"/><circle cx="597.3" cy="69.9" r="3.0"/><circle cx="599.7" cy="69.5" r="3.0"/><circle cx="602.0" cy="69.8" r="3.0"/><circle cx="605.4" cy="69.7" r="3.0"/><circle cx="580.8" cy="71.0" r="3.0"/><circle cx="583.4" cy="71.3" r="3.0"/><circle cx="585.0" cy="71.4" r="3.0"/><circle cx="588.3" cy="71.0" r="3.0"/><circle cx="591.6" cy="71.0" r="3.0"/><circle cx="593.1" cy="71.9" r="3.0"/><circle cx="596.6" cy="72.2" r="3.0"/><circle cx="598.7" cy="72.1" r="3.0"/><circle cx="601.7" cy="71.8" r="3.0"/><circle cx="603.5" cy="72.5" r="3.0"/><circle cx="567.2" cy="74.3" r="3.0"/><circle cx="568.2" cy="75.0" r="3.0"/><circle cx="574.1" cy="74.9" r="3.0"/><circle cx="576.3" cy="74.3" r="3.0"/><circle cx="579.4" cy="73.7" r="3.0"/><circle cx="581.8" cy="74.9" r="3.0"/><circle cx="584.9" cy="74.1" r="3.0"/><circle cx="588.1" cy="73.5" r="3.0"/><circle cx="590.5" cy="73.4" r="3.0"/><circle cx="592.4" cy="74.2" r="3.0"/><circle cx="594.4" cy="73.5" r="3.0"/><circle cx="597.4" cy="74.3" r="3.0"/><circle cx="600.2" cy="74.9" r="3.0"/><circle cx="603.1" cy="73.7" r="3.0"/><circle cx="567.3" cy="75.6" r="3.0"/><circle cx="570.2" cy="75.7" r="3.0"/><circle cx="573.7" cy="76.7" r="3.0"/><circle cx="575.7" cy="76.3" r="3.0"/><circle cx="577.9" cy="76.8" r="3.0"/><circle cx="580.4" cy="76.5" r="3.0"/><circle cx="582.9" cy="76.5" r="3.0"/><circle cx="585.0" cy="76.5" r="3.0"/><circle cx="589.0" cy="75.7" r="3.0"/><circle cx="591.2" cy="76.0" r="3.0"/><circle cx="592.9" cy="76.0" r="3.0"/><circle cx="597.0" cy="77.2" r="3.0"/><circle cx="598.2" cy="76.2" r="3.0"/><circle cx="563.8" cy="77.9" r="3.0"/><circle cx="566.6" cy="78.1" r="3.0"/><circle cx="568.9" cy="78.1" r="3.0"/><circle cx="570.7" cy="79.1" r="3.0"/><circle cx="574.3" cy="79.2" r="3.0"/><circle cx="576.8" cy="78.9" r="3.0"/><circle cx="579.5" cy="77.8" r="3.0"/><circle cx="582.4" cy="79.5" r="3.0"/><circle cx="584.2" cy="79.1" r="3.0"/><circle cx="587.4" cy="78.1" r="3.0"/><circle cx="590.7" cy="78.2" r="3.0"/><circle cx="592.7" cy="78.4" r="3.0"/><circle cx="595.6" cy="77.8" r="3.0"/><circle cx="597.1" cy="78.9" r="3.0"/><circle cx="563.0" cy="80.7" r="3.0"/><circle cx="564.6" cy="81.1" r="3.0"/><circle cx="567.3" cy="81.4" r="3.0"/><circle cx="570.9" cy="80.3" r="3.0"/><circle cx="573.3" cy="80.5" r="3.0"/><circle cx="575.3" cy="80.9" r="3.0"/><circle cx="578.3" cy="81.5" r="3.0"/><circle cx="580.0" cy="81.1" r="3.0"/><circle cx="582.7" cy="81.2" r="3.0"/><circle cx="585.3" cy="81.4" r="3.0"/><circle cx="587.6" cy="80.1" r="3.0"/><circle cx="590.6" cy="81.1" r="3.0"/><circle cx="593.5" cy="80.2" r="3.0"/><circle cx="561.2" cy="83.5" r="3.0"/><circle cx="564.7" cy="82.3" r="3.0"/><circle cx="565.8" cy="83.7" r="3.0"/><circle cx="568.5" cy="83.3" r="3.0"/><circle cx="572.2" cy="83.6" r="3.0"/><circle cx="574.8" cy="82.4" r="3.0"/><circle cx="577.0" cy="83.2" r="3.0"/><circle cx="579.4" cy="83.0" r="3.0"/><circle cx="581.4" cy="82.5" r="3.0"/><circle cx="584.6" cy="83.8" r="3.0"/><circle cx="587.1" cy="83.5" r="3.0"/><circle cx="589.4" cy="82.7" r="3.0"/><circle cx="591.5" cy="83.7" r="3.0"/><circle cx="594.4" cy="83.6" r="3.0"/><circle cx="560.5" cy="85.2" r="3.0"/><circle cx="561.8" cy="85.8" r="3.0"/><circle cx="564.6" cy="85.2" r="3.0"/><circle cx="568.2" cy="85.3" r="3.0"/><circle cx="570.7" cy="85.1" r="3.0"/><circle cx="572.7" cy="85.8" r="3.0"/><circle cx="576.4" cy="84.6" r="3.0"/><circle cx="578.4" cy="85.4" r="3.0"/><circle cx="581.4" cy="84.9" r="3.0"/><circle cx="583.6" cy="85.0" r="3.0"/><circle cx="586.6" cy="84.7" r="3.0"/><circle cx="588.5" cy="86.1" r="3.0"/><circle cx="590.9" cy="86.2" r="3.0"/><circle cx="559.2" cy="86.9" r="3.0"/><circle cx="561.0" cy="86.9" r="3.0"/><circle cx="564.4" cy="87.8" r="3.0"/><circle cx="565.7" cy="87.0" r="3.0"/><circle cx="569.0" cy="87.4" r="3.0"/><circle cx="570.9" cy="87.7" r="3.0"/><circle cx="574.4" cy="87.7" r="3.0"/><circle cx="576.9" cy="88.2" r="3.0"/><circle cx="579.7" cy="87.9" r="3.0"/><circle cx="581.8" cy="88.1" r="3.0"/><circle cx="584.0" cy="88.3" r="3.0"/><circle cx="586.7" cy="87.5" r="3.0"/><circle cx="589.3" cy="88.5" r="3.0"/><circle cx="560.3" cy="90.4" r="3.0"/><circle cx="562.5" cy="90.4" r="3.0"/><circle cx="564.7" cy="89.7" r="3.0"/><circle cx="566.8" cy="90.2" r="3.0"/><circle cx="570.5" cy="89.7" r="3.0"/><circle cx="572.1" cy="89.8" r="3.0"/><circle cx="575.4" cy="90.6" r="3.0"/><circle cx="578.2" cy="90.4" r="3.0"/><circle cx="580.1" cy="90.5" r="3.0"/><circle cx="583.6" cy="89.6" r="3.0"/><circle cx="585.5" cy="90.0" r="3.0"/><circle cx="552.7" cy="93.0" r="3.0"/><circle cx="555.8" cy="92.1" r="3.0"/><circle cx="557.8" cy="91.8" r="3.0"/><circle cx="560.6" cy="92.8" r="3.0"/><circle cx="563.2" cy="91.5" r="3.0"/><circle cx="566.0" cy="91.4" r="3.0"/><circle cx="569.0" cy="92.8" r="3.0"/><circle cx="571.6" cy="92.1" r="3.0"/><circle cx="575.0" cy="91.8" r="3.0"/><circle cx="576.7" cy="92.8" r="3.0"/><circle cx="580.0" cy="92.4" r="3.0"/><circle cx="581.8" cy="92.9" r="3.0"/><circle cx="585.4" cy="92.4" r="3.0"/><circle cx="588.0" cy="92.2" r="3.0"/><circle cx="547.6" cy="94.2" r="3.0"/><circle cx="550.3" cy="93.6" r="3.0"/><circle cx="551.9" cy="93.7" r="3.0"/><circle cx="554.4" cy="93.8" r="3.0"/><circle cx="557.6" cy="93.9" r="3.0"/><circle cx="560.5" cy="94.6" r="3.0"/><circle cx="561.7" cy="95.0" r="3.0"/><circle cx="564.7" cy="94.5" r="3.0"/><circle cx="568.4" cy="94.9" r="3.0"/><circle cx="569.9" cy="94.4" r="3.0"/><circle cx="573.6" cy="95.1" r="3.0"/><circle cx="575.4" cy="95.0" r="3.0"/><circle cx="577.6" cy="94.2" r="3.0"/><circle cx="581.5" cy="95.0" r="3.0"/><circle cx="583.3" cy="95.1" r="3.0"/><circle cx="586.5" cy="94.7" r="3.0"/><circle cx="588.1" cy="94.2" r="3.0"/><circle cx="540.6" cy="96.5" r="3.0"/><circle cx="543.8" cy="97.1" r="3.0"/><circle cx="545.8" cy="97.0" r="3.0"/><circle cx="548.4" cy="97.0" r="3.0"/><circle cx="550.7" cy="96.3" r="3.0"/><circle cx="554.2" cy="96.9" r="3.0"/><circle cx="556.8" cy="97.5" r="3.0"/><circle cx="558.8" cy="96.3" r="3.0"/><circle cx="561.3" cy="97.2" r="3.0"/><circle cx="563.3" cy="96.6" r="3.0"/><circle cx="565.7" cy="95.9" r="3.0"/><circle cx="569.4" cy="96.9" r="3.0"/><circle cx="571.4" cy="97.4" r="3.0"/><circle cx="574.2" cy="97.3" r="3.0"/><circle cx="576.3" cy="97.5" r="3.0"/><circle cx="579.8" cy="97.6" r="3.0"/><circle cx="582.8" cy="97.6" r="3.0"/><circle cx="585.2" cy="97.3" r="3.0"/><circle cx="539.6" cy="99.6" r="3.0"/><circle cx="541.5" cy="99.1" r="3.0"/><circle cx="543.8" cy="98.3" r="3.0"/><circle cx="546.9" cy="98.1" r="3.0"/><circle cx="549.3" cy="98.6" r="3.0"/><circle cx="552.8" cy="98.6" r="3.0"/><circle cx="554.2" cy="98.9" r="3.0"/><circle cx="557.2" cy="99.4" r="3.0"/><circle cx="559.1" cy="99.1" r="3.0"/><circle cx="562.7" cy="98.7" r="3.0"/><circle cx="564.7" cy="98.4" r="3.0"/><circle cx="568.4" cy="98.7" r="3.0"/><circle cx="570.8" cy="99.8" r="3.0"/><circle cx="573.7" cy="99.1" r="3.0"/><circle cx="575.5" cy="98.9" r="3.0"/><circle cx="578.0" cy="98.6" r="3.0"/><circle cx="581.4" cy="99.0" r="3.0"/><circle cx="583.4" cy="98.1" r="3.0"/><circle cx="538.4" cy="100.8" r="3.0"/><circle cx="539.8" cy="100.7" r="3.0"/><circle cx="542.8" cy="101.7" r="3.0"/><circle cx="545.5" cy="100.5" r="3.0"/><circle cx="547.4" cy="101.3" r="3.0"/><circle cx="551.4" cy="100.6" r="3.0"/><circle cx="553.6" cy="101.6" r="3.0"/><circle cx="555.5" cy="101.7" r="3.0"/><circle cx="558.4" cy="100.8" r="3.0"/><circle cx="561.4" cy="101.6" r="3.0"/><circle cx="564.3" cy="101.9" r="3.0"/><circle cx="567.2" cy="101.7" r="3.0"/><circle cx="569.2" cy="100.9" r="3.0"/><circle cx="571.6" cy="100.8" r="3.0"/><circle cx="574.8" cy="101.9" r="3.0"/><circle cx="577.3" cy="100.9" r="3.0"/><circle cx="579.0" cy="102.1" r="3.0"/><circle cx="537.4" cy="104.3" r="3.0"/><circle cx="539.0" cy="103.3" r="3.0"/><circle cx="542.4" cy="103.7" r="3.0"/><circle cx="544.4" cy="104.1" r="3.0"/><circle cx="546.1" cy="102.8" r="3.0"/><circle cx="549.1" cy="103.0" r="3.0"/><circle cx="551.7" cy="102.7" r="3.0"/><circle cx="554.9" cy="103.0" r="3.0"/><circle cx="556.6" cy="104.4" r="3.0"/><circle cx="560.7" cy="103.3" r="3.0"/><circle cx="562.5" cy="102.7" r="3.0"/><circle cx="565.0" cy="104.4" r="3.0"/><circle cx="567.2" cy="103.6" r="3.0"/><circle cx="570.9" cy="104.2" r="3.0"/><circle cx="573.1" cy="102.9" r="3.0"/><circle cx="576.1" cy="103.2" r="3.0"/><circle cx="577.8" cy="103.2" r="3.0"/><circle cx="535.2" cy="105.0" r="3.0"/><circle cx="537.5" cy="105.0" r="3.0"/><circle cx="541.0" cy="106.4" r="3.0"/><circle cx="543.7" cy="106.1" r="3.0"/><circle cx="544.8" cy="106.3" r="3.0"/><circle cx="547.6" cy="105.9" r="3.0"/><circle cx="550.1" cy="105.1" r="3.0"/><circle cx="554.2" cy="105.8" r="3.0"/><circle cx="555.6" cy="105.8" r="3.0"/><circle cx="557.9" cy="105.9" r="3.0"/><circle cx="560.8" cy="105.3" r="3.0"/><circle cx="563.3" cy="105.2" r="3.0"/><circle cx="567.0" cy="105.2" r="3.0"/><circle cx="569.2" cy="106.0" r="3.0"/><circle cx="571.1" cy="105.3" r="3.0"/><circle cx="573.8" cy="105.4" r="3.0"/><circle cx="575.9" cy="106.4" r="3.0"/><circle cx="533.3" cy="108.1" r="3.0"/><circle cx="535.6" cy="108.6" r="3.0"/><circle cx="538.7" cy="108.6" r="3.0"/><circle cx="541.4" cy="107.7" r="3.0"/><circle cx="543.8" cy="108.1" r="3.0"/><circle cx="546.6" cy="108.1" r="3.0"/><circle cx="550.4" cy="107.8" r="3.0"/><circle cx="552.7" cy="108.0" r="3.0"/><circle cx="555.6" cy="108.6" r="3.0"/><circle cx="557.2" cy="108.8" r="3.0"/><circle cx="559.6" cy="107.4" r="3.0"/><circle cx="562.9" cy="108.0" r="3.0"/><circle cx="565.6" cy="107.6" r="3.0"/><circle cx="567.3" cy="107.8" r="3.0"/><circle cx="570.3" cy="108.9" r="3.0"/><circle cx="573.1" cy="107.5" r="3.0"/><circle cx="575.0" cy="108.4" r="3.0"/><circle cx="533.0" cy="110.1" r="3.0"/><circle cx="535.3" cy="111.1" r="3.0"/><circle cx="537.4" cy="111.2" r="3.0"/><circle cx="539.7" cy="111.1" r="3.0"/><circle cx="542.2" cy="110.1" r="3.0"/><circle cx="545.9" cy="111.1" r="3.0"/><circle cx="548.5" cy="110.5" r="3.0"/><circle cx="551.5" cy="110.9" r="3.0"/><circle cx="552.9" cy="110.0" r="3.0"/><circle cx="556.7" cy="109.7" r="3.0"/><circle cx="557.8" cy="110.1" r="3.0"/><circle cx="561.5" cy="111.0" r="3.0"/><circle cx="563.3" cy="110.4" r="3.0"/><circle cx="565.8" cy="109.6" r="3.0"/><circle cx="569.5" cy="109.6" r="3.0"/><circle cx="570.8" cy="111.1" r="3.0"/><circle cx="574.6" cy="109.9" r="3.0"/><circle cx="533.0" cy="113.4" r="3.0"/><circle cx="536.5" cy="113.2" r="3.0"/><circle cx="539.3" cy="111.9" r="3.0"/><circle cx="540.9" cy="112.6" r="3.0"/><circle cx="545.1" cy="112.2" r="3.0"/><circle cx="546.7" cy="112.0" r="3.0"/><circle cx="549.8" cy="112.9" r="3.0"/><circle cx="551.2" cy="112.7" r="3.0"/><circle cx="555.4" cy="111.9" r="3.0"/><circle cx="557.6" cy="113.3" r="3.0"/><circle cx="559.3" cy="111.7" r="3.0"/><circle cx="562.5" cy="112.4" r="3.0"/><circle cx="565.2" cy="113.3" r="3.0"/><circle cx="567.2" cy="112.3" r="3.0"/><circle cx="570.6" cy="113.4" r="3.0"/><circle cx="573.0" cy="113.3" r="3.0"/><circle cx="536.0" cy="115.0" r="3.0"/><circle cx="537.0" cy="115.2" r="3.0"/><circle cx="540.6" cy="115.6" r="3.0"/><circle cx="542.9" cy="115.7" r="3.0"/><circle cx="546.2" cy="114.9" r="3.0"/><circle cx="547.4" cy="114.3" r="3.0"/><circle cx="550.4" cy="114.0" r="3.0"/><circle cx="554.0" cy="115.7" r="3.0"/><circle cx="556.8" cy="115.5" r="3.0"/><circle cx="559.3" cy="114.9" r="3.0"/><circle cx="560.7" cy="114.4" r="3.0"/><circle cx="563.6" cy="115.5" r="3.0"/><circle cx="567.0" cy="115.4" r="3.0"/><circle cx="568.2" cy="114.2" r="3.0"/><circle cx="571.7" cy="114.1" r="3.0"/><circle cx="533.8" cy="116.5" r="3.0"/><circle cx="535.9" cy="117.9" r="3.0"/><circle cx="538.2" cy="116.5" r="3.0"/><circle cx="542.6" cy="116.8" r="3.0"/><circle cx="544.7" cy="117.5" r="3.0"/><circle cx="546.2" cy="116.8" r="3.0"/><circle cx="548.8" cy="117.4" r="3.0"/><circle cx="552.6" cy="117.4" r="3.0"/><circle cx="554.9" cy="116.8" r="3.0"/><circle cx="557.6" cy="117.0" r="3.0"/><circle cx="560.0" cy="116.4" r="3.0"/><circle cx="562.3" cy="117.6" r="3.0"/><circle cx="536.1" cy="120.1" r="3.0"/><circle cx="537.3" cy="119.4" r="3.0"/><circle cx="540.3" cy="118.7" r="3.0"/><circle cx="543.4" cy="119.7" r="3.0"/><circle cx="545.3" cy="119.1" r="3.0"/><circle cx="548.0" cy="119.6" r="3.0"/><circle cx="551.6" cy="119.4" r="3.0"/><circle cx="554.3" cy="118.9" r="3.0"/><circle cx="555.6" cy="119.3" r="3.0"/><circle cx="558.3" cy="119.5" r="3.0"/><circle cx="560.7" cy="119.6" r="3.0"/><circle cx="533.2" cy="121.5" r="3.0"/><circle cx="536.6" cy="121.9" r="3.0"/><circle cx="539.1" cy="122.2" r="3.0"/><circle cx="542.1" cy="122.4" r="3.0"/><circle cx="544.3" cy="121.7" r="3.0"/><circle cx="546.9" cy="121.6" r="3.0"/><circle cx="550.0" cy="121.4" r="3.0"/><circle cx="551.3" cy="122.3" r="3.0"/><circle cx="534.5" cy="123.5" r="3.0"/><circle cx="537.7" cy="124.2" r="3.0"/><circle cx="540.2" cy="124.6" r="3.0"/><circle cx="542.3" cy="123.3" r="3.0"/><circle cx="545.4" cy="124.7" r="3.0"/><circle cx="547.5" cy="124.1" r="3.0"/><circle cx="550.8" cy="123.0" r="3.0"/><circle cx="544.3" cy="125.3" r="3.0"/><circle cx="597.8" cy="137.0" r="3.0"/><circle cx="563.2" cy="180.7" r="3.0"/></g>
<rect x="402.5" y="16.0" width="275.0" height="204.5" fill="none" stroke="#111" stroke-width="1.15"/>
<path d="M402.50 220.5v2.7M402.5 220.50h-2.7M436.88 220.5v2.7M402.5 194.94h-2.7M471.25 220.5v2.7M402.5 169.38h-2.7M505.62 220.5v2.7M402.5 143.81h-2.7M540.00 220.5v2.7M402.5 118.25h-2.7M574.38 220.5v2.7M402.5 92.69h-2.7M608.75 220.5v2.7M402.5 67.12h-2.7M643.12 220.5v2.7M402.5 41.56h-2.7M677.50 220.5v2.7M402.5 16.00h-2.7" stroke="#111" stroke-width="1.15" fill="none"/>
<g font-size="8.3" fill="#000" font-weight="bold">
<text x="391.0" y="232.0" textLength="23.0" lengthAdjust="spacingAndGlyphs">−10.0</text>
<text x="373.9" y="223.5" textLength="23.0" lengthAdjust="spacingAndGlyphs">−10.0</text>
<text x="427.8" y="232.0" textLength="18.2" lengthAdjust="spacingAndGlyphs">−7.5</text>
<text x="378.7" y="197.9" textLength="18.2" lengthAdjust="spacingAndGlyphs">−7.5</text>
<text x="462.1" y="232.0" textLength="18.2" lengthAdjust="spacingAndGlyphs">−5.0</text>
<text x="378.7" y="172.3" textLength="18.2" lengthAdjust="spacingAndGlyphs">−5.0</text>
<text x="496.5" y="232.0" textLength="18.2" lengthAdjust="spacingAndGlyphs">−2.5</text>
<text x="378.7" y="146.8" textLength="18.2" lengthAdjust="spacingAndGlyphs">−2.5</text>
<text x="534.0" y="232.0" textLength="11.9" lengthAdjust="spacingAndGlyphs">0.0</text>
<text x="385.0" y="121.2" textLength="11.9" lengthAdjust="spacingAndGlyphs">0.0</text>
<text x="568.4" y="232.0" textLength="11.9" lengthAdjust="spacingAndGlyphs">2.5</text>
<text x="385.0" y="95.7" textLength="11.9" lengthAdjust="spacingAndGlyphs">2.5</text>
<text x="602.8" y="232.0" textLength="11.9" lengthAdjust="spacingAndGlyphs">5.0</text>
<text x="385.0" y="70.1" textLength="11.9" lengthAdjust="spacingAndGlyphs">5.0</text>
<text x="637.2" y="232.0" textLength="11.9" lengthAdjust="spacingAndGlyphs">7.5</text>
<text x="385.0" y="44.5" textLength="11.9" lengthAdjust="spacingAndGlyphs">7.5</text>
<text x="669.2" y="232.0" textLength="16.7" lengthAdjust="spacingAndGlyphs">10.0</text>
<text x="380.2" y="19.0" textLength="16.7" lengthAdjust="spacingAndGlyphs">10.0</text>
</g>
<text x="513.3" y="11.2" font-size="15.7" fill="#000" stroke="#000" stroke-width="0.3" textLength="54.4" lengthAdjust="spacingAndGlyphs">L A M L</text>
<text x="430.4" y="36.3" font-size="16.0" fill="#000" stroke="#000" stroke-width="0.3" textLength="160.5" lengthAdjust="spacingAndGlyphs">Pearson&#39;s r = 0.8779</text>
<text x="430.4" y="51.4" font-size="16.0" fill="#000" stroke="#000" stroke-width="0.3" textLength="162.2" lengthAdjust="spacingAndGlyphs">Spearman&#39;s r= 0.871</text>
<text x="430.4" y="66.7" font-size="16.0" fill="#000" stroke="#000" stroke-width="0.3" textLength="60.8" lengthAdjust="spacingAndGlyphs">n = 891</text>
<text x="459.5" y="250.6" font-size="16.5" fill="#000" stroke="#000" stroke-width="0.3" textLength="160.0" lengthAdjust="spacingAndGlyphs">Observed data(IC50)</text>
<text transform="translate(379.5 196.4) rotate(-90)" font-size="16.5" fill="#000" stroke="#000" stroke-width="0.3" textLength="158.9" lengthAdjust="spacingAndGlyphs">Predicted data(IC50)</text>
<text class="s" x="531.7" y="278.0" font-size="24.5" fill="#333" text-anchor="middle">B</text>
</g>
<g id="pC">
<clipPath id="cC"><rect x="35.8" y="325.4" width="275.2" height="205.1"/></clipPath>
<g fill="#2d78b4" clip-path="url(#cC)"><circle cx="125.8" cy="418.3" r="2.5"/><circle cx="143.9" cy="417.6" r="2.5"/><circle cx="127.8" cy="442.2" r="2.5"/><circle cx="136.6" cy="445.1" r="2.5"/><circle cx="144.2" cy="445.5" r="2.5"/><circle cx="147.5" cy="447.5" r="2.5"/><circle cx="150.1" cy="435.7" r="2.5"/><circle cx="142.2" cy="450.1" r="2.5"/><circle cx="146.2" cy="455.8" r="2.5"/><circle cx="129.1" cy="453.2" r="2.5"/><circle cx="129.7" cy="456.7" r="2.5"/><circle cx="127.1" cy="458.9" r="2.5"/><circle cx="123.2" cy="458.7" r="2.5"/><circle cx="125.4" cy="461.1" r="2.5"/><circle cx="116.3" cy="460.3" r="2.5"/><circle cx="113.9" cy="463.7" r="2.5"/><circle cx="118.6" cy="463.9" r="2.5"/><circle cx="119.9" cy="467.9" r="2.5"/><circle cx="116.6" cy="469.2" r="2.5"/><circle cx="113.3" cy="471.2" r="2.5"/><circle cx="117.9" cy="471.8" r="2.5"/><circle cx="121.8" cy="473.2" r="2.5"/><circle cx="118.6" cy="478.4" r="2.5"/><circle cx="118.9" cy="481.1" r="2.5"/><circle cx="131.3" cy="467.9" r="2.5"/><circle cx="138.9" cy="463.0" r="2.5"/><circle cx="143.2" cy="464.6" r="2.5"/><circle cx="137.6" cy="465.9" r="2.5"/><circle cx="140.0" cy="469.2" r="2.5"/><circle cx="106.7" cy="468.6" r="2.5"/><circle cx="103.4" cy="469.9" r="2.5"/><circle cx="101.4" cy="473.4" r="2.5"/><circle cx="104.7" cy="476.4" r="2.5"/><circle cx="107.4" cy="474.5" r="2.5"/><circle cx="92.9" cy="484.3" r="2.5"/><circle cx="91.6" cy="486.3" r="2.5"/><circle cx="98.2" cy="483.7" r="2.5"/><circle cx="100.8" cy="486.3" r="2.5"/><circle cx="130.0" cy="400.0" r="2.5"/><circle cx="143.8" cy="417.8" r="2.5"/><circle cx="171.2" cy="400.0" r="2.5"/><circle cx="178.3" cy="397.5" r="2.5"/><circle cx="171.1" cy="410.0" r="2.5"/><circle cx="151.1" cy="435.5" r="2.5"/><circle cx="136.6" cy="445.1" r="2.5"/><circle cx="144.2" cy="445.1" r="2.5"/><circle cx="147.1" cy="446.4" r="2.5"/><circle cx="150.1" cy="447.8" r="2.5"/><circle cx="142.2" cy="450.1" r="2.5"/><circle cx="146.1" cy="455.7" r="2.5"/><circle cx="153.9" cy="453.3" r="2.5"/><circle cx="130.0" cy="453.7" r="2.5"/><circle cx="158.9" cy="437.9" r="2.5"/><circle cx="161.3" cy="441.2" r="2.5"/><circle cx="157.4" cy="441.8" r="2.5"/><circle cx="157.9" cy="444.5" r="2.5"/><circle cx="162.6" cy="432.0" r="2.5"/><circle cx="164.5" cy="430.7" r="2.5"/><circle cx="189.5" cy="435.5" r="2.5"/><circle cx="178.9" cy="440.3" r="2.5"/><circle cx="198.7" cy="423.8" r="2.5"/><circle cx="195.4" cy="422.1" r="2.5"/><circle cx="204.3" cy="415.3" r="2.5"/><circle cx="218.4" cy="412.6" r="2.5"/><circle cx="185.0" cy="392.8" r="2.5"/><circle cx="182.6" cy="395.1" r="2.5"/><circle cx="185.3" cy="397.8" r="2.5"/><circle cx="194.5" cy="396.1" r="2.5"/><circle cx="198.4" cy="397.1" r="2.5"/><circle cx="203.7" cy="395.8" r="2.5"/><circle cx="208.9" cy="394.5" r="2.5"/><circle cx="212.9" cy="390.5" r="2.5"/><circle cx="216.8" cy="385.9" r="2.5"/><circle cx="218.2" cy="390.5" r="2.5"/><circle cx="178.0" cy="405.0" r="2.5"/><circle cx="177.4" cy="408.9" r="2.5"/><circle cx="179.3" cy="412.9" r="2.5"/><circle cx="172.8" cy="418.8" r="2.5"/><circle cx="169.5" cy="421.1" r="2.5"/><circle cx="173.4" cy="423.4" r="2.5"/><circle cx="176.7" cy="419.5" r="2.5"/><circle cx="168.8" cy="428.9" r="2.5"/><circle cx="172.8" cy="428.0" r="2.5"/><circle cx="169.5" cy="433.9" r="2.5"/><circle cx="174.1" cy="434.6" r="2.5"/><circle cx="176.1" cy="436.6" r="2.5"/><circle cx="180.7" cy="435.9" r="2.5"/><circle cx="182.6" cy="432.0" r="2.5"/><circle cx="187.9" cy="428.0" r="2.5"/><circle cx="188.6" cy="424.7" r="2.5"/><circle cx="184.6" cy="423.4" r="2.5"/><circle cx="180.7" cy="425.4" r="2.5"/><circle cx="177.4" cy="427.4" r="2.5"/><circle cx="180.7" cy="430.0" r="2.5"/><circle cx="177.4" cy="432.0" r="2.5"/><circle cx="173.4" cy="431.3" r="2.5"/><circle cx="260.5" cy="371.3" r="2.5"/><circle cx="257.0" cy="376.7" r="2.5"/><circle cx="243.4" cy="412.6" r="2.5"/><circle cx="233.3" cy="411.4" r="2.5"/><circle cx="227.1" cy="413.4" r="2.5"/><circle cx="218.8" cy="412.1" r="2.5"/><circle cx="220.5" cy="416.4" r="2.5"/><circle cx="222.4" cy="426.1" r="2.5"/><circle cx="224.7" cy="425.7" r="2.5"/><circle cx="204.3" cy="415.1" r="2.5"/><circle cx="198.7" cy="423.7" r="2.5"/><circle cx="195.8" cy="421.7" r="2.5"/><circle cx="239.5" cy="374.3" r="2.5"/><circle cx="241.8" cy="376.3" r="2.5"/><circle cx="244.7" cy="377.9" r="2.5"/><circle cx="243.2" cy="380.9" r="2.5"/><circle cx="236.6" cy="377.0" r="2.5"/><circle cx="233.9" cy="379.6" r="2.5"/><circle cx="227.4" cy="381.6" r="2.5"/><circle cx="224.7" cy="384.2" r="2.5"/><circle cx="218.2" cy="385.5" r="2.5"/><circle cx="214.9" cy="388.8" r="2.5"/><circle cx="211.6" cy="390.8" r="2.5"/><circle cx="207.6" cy="394.1" r="2.5"/><circle cx="203.0" cy="396.1" r="2.5"/><circle cx="198.4" cy="396.7" r="2.5"/><circle cx="194.5" cy="396.1" r="2.5"/><circle cx="189.9" cy="398.0" r="2.5"/><circle cx="185.3" cy="392.8" r="2.5"/><circle cx="185.9" cy="395.4" r="2.5"/><circle cx="182.6" cy="396.1" r="2.5"/><circle cx="180.0" cy="400.0" r="2.5"/><circle cx="240.8" cy="384.9" r="2.5"/><circle cx="239.2" cy="389.5" r="2.5"/><circle cx="236.6" cy="395.4" r="2.5"/><circle cx="235.9" cy="400.0" r="2.5"/><circle cx="232.0" cy="398.0" r="2.5"/><circle cx="230.7" cy="402.0" r="2.5"/><circle cx="230.0" cy="405.3" r="2.5"/><circle cx="226.1" cy="404.6" r="2.5"/><circle cx="233.9" cy="377.8" r="2.5"/><circle cx="237.1" cy="376.7" r="2.5"/><circle cx="239.8" cy="377.1" r="2.5"/><circle cx="233.9" cy="379.3" r="2.5"/><circle cx="235.3" cy="379.3" r="2.5"/><circle cx="238.4" cy="379.4" r="2.5"/><circle cx="240.4" cy="379.3" r="2.5"/><circle cx="228.8" cy="381.0" r="2.5"/><circle cx="231.7" cy="382.1" r="2.5"/><circle cx="234.0" cy="381.2" r="2.5"/><circle cx="237.5" cy="382.2" r="2.5"/><circle cx="239.5" cy="382.0" r="2.5"/><circle cx="227.6" cy="383.5" r="2.5"/><circle cx="230.5" cy="383.9" r="2.5"/><circle cx="233.0" cy="384.6" r="2.5"/><circle cx="236.5" cy="383.5" r="2.5"/><circle cx="238.9" cy="384.4" r="2.5"/><circle cx="221.4" cy="385.8" r="2.5"/><circle cx="223.7" cy="385.6" r="2.5"/><circle cx="226.8" cy="385.6" r="2.5"/><circle cx="229.8" cy="385.8" r="2.5"/><circle cx="231.3" cy="386.4" r="2.5"/><circle cx="234.4" cy="386.1" r="2.5"/><circle cx="237.5" cy="386.2" r="2.5"/><circle cx="218.4" cy="388.1" r="2.5"/><circle cx="219.3" cy="387.8" r="2.5"/><circle cx="223.4" cy="387.7" r="2.5"/><circle cx="225.0" cy="388.6" r="2.5"/><circle cx="228.1" cy="389.2" r="2.5"/><circle cx="230.6" cy="388.3" r="2.5"/><circle cx="233.3" cy="389.1" r="2.5"/><circle cx="235.7" cy="387.6" r="2.5"/><circle cx="215.5" cy="390.2" r="2.5"/><circle cx="219.6" cy="391.5" r="2.5"/><circle cx="222.0" cy="389.9" r="2.5"/><circle cx="224.0" cy="390.5" r="2.5"/><circle cx="226.3" cy="389.7" r="2.5"/><circle cx="229.6" cy="390.1" r="2.5"/><circle cx="231.8" cy="391.0" r="2.5"/><circle cx="234.2" cy="391.0" r="2.5"/><circle cx="237.2" cy="390.6" r="2.5"/><circle cx="210.6" cy="393.5" r="2.5"/><circle cx="211.5" cy="393.5" r="2.5"/><circle cx="215.0" cy="393.1" r="2.5"/><circle cx="217.6" cy="392.0" r="2.5"/><circle cx="219.4" cy="392.3" r="2.5"/><circle cx="221.8" cy="392.9" r="2.5"/><circle cx="226.2" cy="392.4" r="2.5"/><circle cx="228.8" cy="392.0" r="2.5"/><circle cx="230.1" cy="393.2" r="2.5"/><circle cx="233.0" cy="392.4" r="2.5"/><circle cx="235.2" cy="393.1" r="2.5"/><circle cx="184.5" cy="395.9" r="2.5"/><circle cx="208.4" cy="395.2" r="2.5"/><circle cx="210.4" cy="394.9" r="2.5"/><circle cx="213.5" cy="394.9" r="2.5"/><circle cx="216.5" cy="395.6" r="2.5"/><circle cx="219.4" cy="395.0" r="2.5"/><circle cx="221.2" cy="395.2" r="2.5"/><circle cx="224.3" cy="395.2" r="2.5"/><circle cx="227.1" cy="394.6" r="2.5"/><circle cx="229.2" cy="394.7" r="2.5"/><circle cx="231.7" cy="395.2" r="2.5"/><circle cx="234.6" cy="394.4" r="2.5"/><circle cx="183.8" cy="397.0" r="2.5"/><circle cx="186.3" cy="397.2" r="2.5"/><circle cx="191.6" cy="397.7" r="2.5"/><circle cx="194.6" cy="397.3" r="2.5"/><circle cx="196.1" cy="397.5" r="2.5"/><circle cx="201.6" cy="397.3" r="2.5"/><circle cx="203.7" cy="397.9" r="2.5"/><circle cx="207.1" cy="396.5" r="2.5"/><circle cx="209.5" cy="397.0" r="2.5"/><circle cx="211.9" cy="396.7" r="2.5"/><circle cx="215.3" cy="397.9" r="2.5"/><circle cx="216.6" cy="398.1" r="2.5"/><circle cx="220.6" cy="398.2" r="2.5"/><circle cx="222.4" cy="397.3" r="2.5"/><circle cx="225.8" cy="397.8" r="2.5"/><circle cx="228.8" cy="397.7" r="2.5"/><circle cx="230.7" cy="397.3" r="2.5"/><circle cx="232.6" cy="396.9" r="2.5"/><circle cx="180.7" cy="399.6" r="2.5"/><circle cx="182.9" cy="400.1" r="2.5"/><circle cx="185.0" cy="399.4" r="2.5"/><circle cx="188.2" cy="400.2" r="2.5"/><circle cx="190.3" cy="399.8" r="2.5"/><circle cx="193.3" cy="400.4" r="2.5"/><circle cx="196.1" cy="399.4" r="2.5"/><circle cx="197.6" cy="399.1" r="2.5"/><circle cx="201.1" cy="400.5" r="2.5"/><circle cx="202.9" cy="400.3" r="2.5"/><circle cx="205.2" cy="399.7" r="2.5"/><circle cx="208.4" cy="399.4" r="2.5"/><circle cx="211.4" cy="399.8" r="2.5"/><circle cx="212.7" cy="399.4" r="2.5"/><circle cx="216.7" cy="399.7" r="2.5"/><circle cx="218.0" cy="399.5" r="2.5"/><circle cx="221.3" cy="398.9" r="2.5"/><circle cx="223.2" cy="400.3" r="2.5"/><circle cx="226.4" cy="399.3" r="2.5"/><circle cx="228.6" cy="400.4" r="2.5"/><circle cx="231.5" cy="398.9" r="2.5"/><circle cx="181.8" cy="401.8" r="2.5"/><circle cx="184.0" cy="401.3" r="2.5"/><circle cx="186.5" cy="401.4" r="2.5"/><circle cx="189.0" cy="401.6" r="2.5"/><circle cx="192.0" cy="401.7" r="2.5"/><circle cx="194.1" cy="401.4" r="2.5"/><circle cx="196.9" cy="401.5" r="2.5"/><circle cx="200.1" cy="402.5" r="2.5"/><circle cx="202.0" cy="402.7" r="2.5"/><circle cx="205.2" cy="402.4" r="2.5"/><circle cx="207.1" cy="401.7" r="2.5"/><circle cx="210.2" cy="402.6" r="2.5"/><circle cx="212.6" cy="401.7" r="2.5"/><circle cx="215.7" cy="401.4" r="2.5"/><circle cx="216.8" cy="402.6" r="2.5"/><circle cx="220.1" cy="402.2" r="2.5"/><circle cx="222.0" cy="402.7" r="2.5"/><circle cx="224.9" cy="401.7" r="2.5"/><circle cx="179.6" cy="404.4" r="2.5"/><circle cx="182.2" cy="404.2" r="2.5"/><circle cx="184.9" cy="404.5" r="2.5"/><circle cx="188.2" cy="404.3" r="2.5"/><circle cx="190.6" cy="403.8" r="2.5"/><circle cx="192.4" cy="404.6" r="2.5"/><circle cx="194.7" cy="404.9" r="2.5"/><circle cx="198.6" cy="404.6" r="2.5"/><circle cx="200.5" cy="404.4" r="2.5"/><circle cx="204.0" cy="404.7" r="2.5"/><circle cx="205.6" cy="404.4" r="2.5"/><circle cx="208.7" cy="403.7" r="2.5"/><circle cx="211.2" cy="404.4" r="2.5"/><circle cx="213.0" cy="404.1" r="2.5"/><circle cx="216.9" cy="404.3" r="2.5"/><circle cx="219.5" cy="403.7" r="2.5"/><circle cx="221.1" cy="404.6" r="2.5"/><circle cx="178.9" cy="406.7" r="2.5"/><circle cx="181.9" cy="407.2" r="2.5"/><circle cx="183.5" cy="406.4" r="2.5"/><circle cx="186.3" cy="406.9" r="2.5"/><circle cx="189.3" cy="407.1" r="2.5"/><circle cx="191.2" cy="406.9" r="2.5"/><circle cx="194.0" cy="406.7" r="2.5"/><circle cx="196.6" cy="406.9" r="2.5"/><circle cx="199.1" cy="407.0" r="2.5"/><circle cx="202.0" cy="406.0" r="2.5"/><circle cx="204.2" cy="406.0" r="2.5"/><circle cx="207.2" cy="406.1" r="2.5"/><circle cx="210.3" cy="407.0" r="2.5"/><circle cx="180.7" cy="409.1" r="2.5"/><circle cx="183.1" cy="408.8" r="2.5"/><circle cx="185.1" cy="408.7" r="2.5"/><circle cx="188.2" cy="408.4" r="2.5"/><circle cx="190.9" cy="409.3" r="2.5"/><circle cx="192.3" cy="408.6" r="2.5"/><circle cx="195.2" cy="409.3" r="2.5"/><circle cx="197.6" cy="408.3" r="2.5"/><circle cx="200.3" cy="409.5" r="2.5"/><circle cx="203.2" cy="408.4" r="2.5"/><circle cx="206.4" cy="408.3" r="2.5"/><circle cx="209.2" cy="409.0" r="2.5"/><circle cx="179.1" cy="411.6" r="2.5"/><circle cx="180.8" cy="411.7" r="2.5"/><circle cx="184.1" cy="410.7" r="2.5"/><circle cx="186.3" cy="410.9" r="2.5"/><circle cx="188.6" cy="410.7" r="2.5"/><circle cx="191.6" cy="410.8" r="2.5"/><circle cx="194.2" cy="411.5" r="2.5"/><circle cx="196.1" cy="410.4" r="2.5"/><circle cx="199.5" cy="411.2" r="2.5"/><circle cx="201.4" cy="410.7" r="2.5"/><circle cx="206.4" cy="410.1" r="2.5"/><circle cx="176.5" cy="413.9" r="2.5"/><circle cx="179.2" cy="412.8" r="2.5"/><circle cx="181.9" cy="414.1" r="2.5"/><circle cx="184.5" cy="413.3" r="2.5"/><circle cx="186.9" cy="413.0" r="2.5"/><circle cx="189.9" cy="413.2" r="2.5"/><circle cx="193.3" cy="412.5" r="2.5"/><circle cx="194.9" cy="413.5" r="2.5"/><circle cx="198.3" cy="413.0" r="2.5"/><circle cx="200.8" cy="412.9" r="2.5"/><circle cx="176.3" cy="414.6" r="2.5"/><circle cx="177.8" cy="415.1" r="2.5"/><circle cx="180.2" cy="415.6" r="2.5"/><circle cx="184.3" cy="415.0" r="2.5"/><circle cx="185.8" cy="414.9" r="2.5"/><circle cx="188.4" cy="415.5" r="2.5"/><circle cx="190.8" cy="414.6" r="2.5"/><circle cx="193.5" cy="416.0" r="2.5"/><circle cx="196.4" cy="415.9" r="2.5"/><circle cx="174.0" cy="417.9" r="2.5"/><circle cx="176.8" cy="417.7" r="2.5"/><circle cx="180.1" cy="418.2" r="2.5"/><circle cx="182.9" cy="417.0" r="2.5"/><circle cx="185.5" cy="418.2" r="2.5"/><circle cx="188.4" cy="417.6" r="2.5"/><circle cx="191.0" cy="418.4" r="2.5"/><circle cx="173.7" cy="419.7" r="2.5"/><circle cx="176.5" cy="419.8" r="2.5"/><circle cx="178.2" cy="419.4" r="2.5"/><circle cx="180.9" cy="420.0" r="2.5"/><circle cx="183.0" cy="419.4" r="2.5"/><circle cx="187.0" cy="419.4" r="2.5"/><circle cx="189.6" cy="419.4" r="2.5"/><circle cx="190.7" cy="420.4" r="2.5"/><circle cx="171.4" cy="422.3" r="2.5"/><circle cx="174.5" cy="421.4" r="2.5"/><circle cx="177.0" cy="422.9" r="2.5"/><circle cx="180.4" cy="422.1" r="2.5"/><circle cx="181.5" cy="422.7" r="2.5"/><circle cx="185.6" cy="423.0" r="2.5"/><circle cx="187.4" cy="422.8" r="2.5"/><circle cx="171.3" cy="423.8" r="2.5"/><circle cx="172.9" cy="425.2" r="2.5"/><circle cx="175.2" cy="423.9" r="2.5"/><circle cx="178.6" cy="423.9" r="2.5"/><circle cx="180.6" cy="423.8" r="2.5"/><circle cx="183.9" cy="424.4" r="2.5"/><circle cx="187.1" cy="423.9" r="2.5"/><circle cx="188.5" cy="423.9" r="2.5"/><circle cx="169.4" cy="426.1" r="2.5"/><circle cx="172.1" cy="426.7" r="2.5"/><circle cx="175.1" cy="426.1" r="2.5"/><circle cx="177.8" cy="426.5" r="2.5"/><circle cx="179.0" cy="427.5" r="2.5"/><circle cx="182.1" cy="426.7" r="2.5"/><circle cx="184.3" cy="426.1" r="2.5"/><circle cx="170.1" cy="428.9" r="2.5"/><circle cx="173.6" cy="428.7" r="2.5"/><circle cx="176.5" cy="429.1" r="2.5"/><circle cx="179.2" cy="429.7" r="2.5"/><circle cx="180.3" cy="428.2" r="2.5"/><circle cx="182.9" cy="429.7" r="2.5"/><circle cx="186.7" cy="428.3" r="2.5"/><circle cx="175.4" cy="431.0" r="2.5"/><circle cx="177.6" cy="430.6" r="2.5"/><circle cx="180.4" cy="430.7" r="2.5"/><circle cx="182.2" cy="430.9" r="2.5"/><circle cx="175.9" cy="434.0" r="2.5"/><circle cx="178.4" cy="433.0" r="2.5"/><circle cx="94.5" cy="488.9" r="2.5"/><circle cx="95.3" cy="491.6" r="2.5"/></g>
<rect x="35.8" y="325.4" width="275.2" height="205.1" fill="none" stroke="#4a4a4a" stroke-width="1.1"/>
<path d="M35.80 530.5v2.7M35.8 530.50h-2.7M70.20 530.5v2.7M35.8 504.86h-2.7M104.60 530.5v2.7M35.8 479.23h-2.7M139.00 530.5v2.7M35.8 453.59h-2.7M173.40 530.5v2.7M35.8 427.95h-2.7M207.80 530.5v2.7M35.8 402.31h-2.7M242.20 530.5v2.7M35.8 376.67h-2.7M276.60 530.5v2.7M35.8 351.04h-2.7M311.00 530.5v2.7M35.8 325.40h-2.7" stroke="#4a4a4a" stroke-width="1.1" fill="none"/>
<g font-size="8.2" fill="#333" stroke="#333" stroke-width="0.05">
<text x="24.8" y="542.2" textLength="22.1" lengthAdjust="spacingAndGlyphs">−10.0</text>
<text x="7.3" y="533.4" textLength="22.1" lengthAdjust="spacingAndGlyphs">−10.0</text>
<text x="61.5" y="542.2" textLength="17.5" lengthAdjust="spacingAndGlyphs">−7.5</text>
<text x="11.9" y="507.8" textLength="17.5" lengthAdjust="spacingAndGlyphs">−7.5</text>
<text x="95.9" y="542.2" textLength="17.5" lengthAdjust="spacingAndGlyphs">−5.0</text>
<text x="11.9" y="482.2" textLength="17.5" lengthAdjust="spacingAndGlyphs">−5.0</text>
<text x="130.3" y="542.2" textLength="17.5" lengthAdjust="spacingAndGlyphs">−2.5</text>
<text x="11.9" y="456.5" textLength="17.5" lengthAdjust="spacingAndGlyphs">−2.5</text>
<text x="167.7" y="542.2" textLength="11.4" lengthAdjust="spacingAndGlyphs">0.0</text>
<text x="18.0" y="430.9" textLength="11.4" lengthAdjust="spacingAndGlyphs">0.0</text>
<text x="202.1" y="542.2" textLength="11.4" lengthAdjust="spacingAndGlyphs">2.5</text>
<text x="18.0" y="405.2" textLength="11.4" lengthAdjust="spacingAndGlyphs">2.5</text>
<text x="236.5" y="542.2" textLength="11.4" lengthAdjust="spacingAndGlyphs">5.0</text>
<text x="18.0" y="379.6" textLength="11.4" lengthAdjust="spacingAndGlyphs">5.0</text>
<text x="270.9" y="542.2" textLength="11.4" lengthAdjust="spacingAndGlyphs">7.5</text>
<text x="18.0" y="354.0" textLength="11.4" lengthAdjust="spacingAndGlyphs">7.5</text>
<text x="303.0" y="542.2" textLength="16.0" lengthAdjust="spacingAndGlyphs">10.0</text>
<text x="13.4" y="328.3" textLength="16.0" lengthAdjust="spacingAndGlyphs">10.0</text>
</g>
<text x="25.4" y="319.8" font-size="15.3" fill="#222" stroke="#222" stroke-width="0.08" textLength="295.6" lengthAdjust="spacingAndGlyphs">GSK1070916[pubchem_id=46885626]</text>
<text x="64.4" y="345.6" font-size="16.0" fill="#222" stroke="#222" stroke-width="0.08" textLength="159.6" lengthAdjust="spacingAndGlyphs">Pearson&#39;s r = 0.9268</text>
<text x="64.4" y="361.0" font-size="16.0" fill="#222" stroke="#222" stroke-width="0.08" textLength="171.5" lengthAdjust="spacingAndGlyphs">Spearman&#39;s r= 0.8689</text>
<text x="64.4" y="376.1" font-size="16.0" fill="#222" stroke="#222" stroke-width="0.08" textLength="59.7" lengthAdjust="spacingAndGlyphs">n = 511</text>
<text x="92.8" y="555.4" font-size="16.5" fill="#222" stroke="#222" stroke-width="0.08" textLength="159.9" lengthAdjust="spacingAndGlyphs">Observed data(IC50)</text>
<text transform="translate(12.8 507.0) rotate(-90)" font-size="16.5" fill="#222" stroke="#222" stroke-width="0.08" textLength="158.5" lengthAdjust="spacingAndGlyphs">Predicted data(IC50)</text>
<text class="s" x="165.2" y="586.9" font-size="24.5" fill="#333" text-anchor="middle">C</text>
</g>
<g id="pD">
<clipPath id="cD"><rect x="398.8" y="325.4" width="275.8" height="205.1"/></clipPath>
<g fill="#2d78b4" clip-path="url(#cD)"><circle cx="538.0" cy="402.1" r="2.5"/><circle cx="542.1" cy="392.4" r="2.5"/><circle cx="544.3" cy="390.1" r="2.5"/><circle cx="549.6" cy="385.5" r="2.5"/><circle cx="554.5" cy="387.8" r="2.5"/><circle cx="559.6" cy="383.0" r="2.5"/><circle cx="561.2" cy="385.5" r="2.5"/><circle cx="619.2" cy="369.3" r="2.5"/><circle cx="631.5" cy="373.9" r="2.5"/><circle cx="620.8" cy="377.0" r="2.5"/><circle cx="621.3" cy="385.1" r="2.5"/><circle cx="601.9" cy="373.7" r="2.5"/><circle cx="608.5" cy="377.0" r="2.5"/><circle cx="557.6" cy="403.9" r="2.5"/><circle cx="560.7" cy="402.7" r="2.5"/><circle cx="580.1" cy="403.5" r="2.5"/><circle cx="588.8" cy="403.1" r="2.5"/><circle cx="590.8" cy="403.5" r="2.5"/><circle cx="552.0" cy="391.9" r="2.5"/><circle cx="555.5" cy="389.8" r="2.5"/><circle cx="550.4" cy="395.3" r="2.5"/><circle cx="549.2" cy="399.6" r="2.5"/><circle cx="565.8" cy="402.7" r="2.5"/><circle cx="553.7" cy="402.1" r="2.5"/><circle cx="595.4" cy="400.7" r="2.5"/><circle cx="575.0" cy="400.7" r="2.5"/><circle cx="570.9" cy="400.7" r="2.5"/><circle cx="593.5" cy="378.1" r="2.5"/><circle cx="594.4" cy="379.2" r="2.5"/><circle cx="597.8" cy="379.0" r="2.5"/><circle cx="588.5" cy="381.9" r="2.5"/><circle cx="591.5" cy="381.8" r="2.5"/><circle cx="593.5" cy="381.7" r="2.5"/><circle cx="597.3" cy="380.8" r="2.5"/><circle cx="577.0" cy="383.5" r="2.5"/><circle cx="580.4" cy="383.5" r="2.5"/><circle cx="581.9" cy="384.0" r="2.5"/><circle cx="584.8" cy="383.0" r="2.5"/><circle cx="587.6" cy="384.0" r="2.5"/><circle cx="589.7" cy="384.1" r="2.5"/><circle cx="592.8" cy="383.1" r="2.5"/><circle cx="595.0" cy="382.9" r="2.5"/><circle cx="597.0" cy="383.9" r="2.5"/><circle cx="573.7" cy="384.9" r="2.5"/><circle cx="576.0" cy="384.9" r="2.5"/><circle cx="579.0" cy="385.8" r="2.5"/><circle cx="580.4" cy="386.1" r="2.5"/><circle cx="583.5" cy="384.7" r="2.5"/><circle cx="586.3" cy="386.3" r="2.5"/><circle cx="589.0" cy="386.1" r="2.5"/><circle cx="590.6" cy="385.8" r="2.5"/><circle cx="593.1" cy="386.3" r="2.5"/><circle cx="596.3" cy="386.5" r="2.5"/><circle cx="563.4" cy="388.7" r="2.5"/><circle cx="570.0" cy="387.2" r="2.5"/><circle cx="571.2" cy="387.9" r="2.5"/><circle cx="574.5" cy="388.4" r="2.5"/><circle cx="577.7" cy="387.8" r="2.5"/><circle cx="578.7" cy="388.7" r="2.5"/><circle cx="582.4" cy="387.8" r="2.5"/><circle cx="585.4" cy="388.4" r="2.5"/><circle cx="586.6" cy="387.8" r="2.5"/><circle cx="590.5" cy="388.1" r="2.5"/><circle cx="593.1" cy="387.7" r="2.5"/><circle cx="594.9" cy="387.2" r="2.5"/><circle cx="596.9" cy="388.0" r="2.5"/><circle cx="562.1" cy="389.9" r="2.5"/><circle cx="564.8" cy="389.9" r="2.5"/><circle cx="568.8" cy="390.3" r="2.5"/><circle cx="569.9" cy="389.9" r="2.5"/><circle cx="573.5" cy="391.0" r="2.5"/><circle cx="575.6" cy="389.6" r="2.5"/><circle cx="577.5" cy="389.6" r="2.5"/><circle cx="580.6" cy="390.7" r="2.5"/><circle cx="584.1" cy="390.1" r="2.5"/><circle cx="585.9" cy="390.9" r="2.5"/><circle cx="588.0" cy="391.0" r="2.5"/><circle cx="591.4" cy="389.7" r="2.5"/><circle cx="594.1" cy="390.9" r="2.5"/><circle cx="596.6" cy="389.5" r="2.5"/><circle cx="558.4" cy="392.8" r="2.5"/><circle cx="562.3" cy="391.9" r="2.5"/><circle cx="563.9" cy="392.4" r="2.5"/><circle cx="566.1" cy="391.6" r="2.5"/><circle cx="568.3" cy="392.6" r="2.5"/><circle cx="571.2" cy="392.0" r="2.5"/><circle cx="574.7" cy="391.9" r="2.5"/><circle cx="577.4" cy="392.3" r="2.5"/><circle cx="579.1" cy="392.4" r="2.5"/><circle cx="582.5" cy="393.3" r="2.5"/><circle cx="585.7" cy="392.7" r="2.5"/><circle cx="587.0" cy="392.2" r="2.5"/><circle cx="589.3" cy="392.3" r="2.5"/><circle cx="592.5" cy="392.5" r="2.5"/><circle cx="595.6" cy="392.6" r="2.5"/><circle cx="597.6" cy="391.8" r="2.5"/><circle cx="554.2" cy="394.1" r="2.5"/><circle cx="556.9" cy="395.1" r="2.5"/><circle cx="559.7" cy="395.5" r="2.5"/><circle cx="561.9" cy="393.9" r="2.5"/><circle cx="565.9" cy="394.7" r="2.5"/><circle cx="568.6" cy="393.9" r="2.5"/><circle cx="569.8" cy="395.4" r="2.5"/><circle cx="572.3" cy="394.6" r="2.5"/><circle cx="575.5" cy="395.2" r="2.5"/><circle cx="578.2" cy="394.7" r="2.5"/><circle cx="580.6" cy="394.3" r="2.5"/><circle cx="584.0" cy="394.9" r="2.5"/><circle cx="586.2" cy="394.5" r="2.5"/><circle cx="588.9" cy="394.1" r="2.5"/><circle cx="591.1" cy="394.1" r="2.5"/><circle cx="593.0" cy="395.4" r="2.5"/><circle cx="595.9" cy="395.3" r="2.5"/><circle cx="553.5" cy="397.8" r="2.5"/><circle cx="556.0" cy="396.0" r="2.5"/><circle cx="559.1" cy="396.5" r="2.5"/><circle cx="562.1" cy="396.2" r="2.5"/><circle cx="564.5" cy="397.3" r="2.5"/><circle cx="566.7" cy="397.3" r="2.5"/><circle cx="569.0" cy="396.3" r="2.5"/><circle cx="571.1" cy="397.4" r="2.5"/><circle cx="575.2" cy="396.6" r="2.5"/><circle cx="576.5" cy="397.1" r="2.5"/><circle cx="579.6" cy="396.1" r="2.5"/><circle cx="582.0" cy="397.3" r="2.5"/><circle cx="585.6" cy="396.5" r="2.5"/><circle cx="587.3" cy="396.2" r="2.5"/><circle cx="590.8" cy="396.9" r="2.5"/><circle cx="592.6" cy="396.8" r="2.5"/><circle cx="594.6" cy="396.1" r="2.5"/><circle cx="551.8" cy="399.3" r="2.5"/><circle cx="555.7" cy="399.6" r="2.5"/><circle cx="557.2" cy="399.1" r="2.5"/><circle cx="559.4" cy="399.5" r="2.5"/><circle cx="561.8" cy="399.2" r="2.5"/><circle cx="565.7" cy="399.4" r="2.5"/><circle cx="568.2" cy="398.3" r="2.5"/><circle cx="571.4" cy="399.5" r="2.5"/><circle cx="572.6" cy="399.9" r="2.5"/><circle cx="576.0" cy="398.9" r="2.5"/><circle cx="579.0" cy="398.4" r="2.5"/><circle cx="580.8" cy="399.7" r="2.5"/><circle cx="583.2" cy="398.6" r="2.5"/><circle cx="586.1" cy="398.8" r="2.5"/><circle cx="587.8" cy="399.3" r="2.5"/><circle cx="591.1" cy="399.5" r="2.5"/><circle cx="593.6" cy="400.0" r="2.5"/><circle cx="597.1" cy="399.0" r="2.5"/><circle cx="551.6" cy="401.3" r="2.5"/><circle cx="555.7" cy="402.2" r="2.5"/><circle cx="559.4" cy="401.4" r="2.5"/><circle cx="561.6" cy="400.9" r="2.5"/><circle cx="563.4" cy="402.3" r="2.5"/><circle cx="566.4" cy="402.3" r="2.5"/><circle cx="577.1" cy="400.7" r="2.5"/><circle cx="579.1" cy="400.9" r="2.5"/><circle cx="581.4" cy="400.8" r="2.5"/><circle cx="586.8" cy="402.0" r="2.5"/><circle cx="590.8" cy="401.1" r="2.5"/><circle cx="592.6" cy="401.1" r="2.5"/><circle cx="593.9" cy="378.1" r="2.5"/><circle cx="589.9" cy="380.4" r="2.5"/><circle cx="592.5" cy="379.3" r="2.5"/><circle cx="595.9" cy="380.1" r="2.5"/><circle cx="588.6" cy="383.1" r="2.5"/><circle cx="591.0" cy="382.1" r="2.5"/><circle cx="593.5" cy="382.4" r="2.5"/><circle cx="595.8" cy="383.1" r="2.5"/><circle cx="602.7" cy="383.0" r="2.5"/><circle cx="615.6" cy="382.5" r="2.5"/><circle cx="587.7" cy="384.9" r="2.5"/><circle cx="590.8" cy="385.0" r="2.5"/><circle cx="593.4" cy="385.3" r="2.5"/><circle cx="594.6" cy="384.1" r="2.5"/><circle cx="597.6" cy="385.2" r="2.5"/><circle cx="599.8" cy="384.5" r="2.5"/><circle cx="603.9" cy="383.6" r="2.5"/><circle cx="606.4" cy="384.2" r="2.5"/><circle cx="608.9" cy="384.2" r="2.5"/><circle cx="610.5" cy="385.4" r="2.5"/><circle cx="613.7" cy="384.7" r="2.5"/><circle cx="589.6" cy="386.7" r="2.5"/><circle cx="591.5" cy="385.9" r="2.5"/><circle cx="594.5" cy="386.7" r="2.5"/><circle cx="597.2" cy="387.0" r="2.5"/><circle cx="599.9" cy="386.8" r="2.5"/><circle cx="601.5" cy="386.7" r="2.5"/><circle cx="604.6" cy="387.3" r="2.5"/><circle cx="607.1" cy="386.3" r="2.5"/><circle cx="610.3" cy="386.1" r="2.5"/><circle cx="611.5" cy="387.0" r="2.5"/><circle cx="614.4" cy="387.3" r="2.5"/><circle cx="588.3" cy="388.5" r="2.5"/><circle cx="589.6" cy="389.2" r="2.5"/><circle cx="592.8" cy="389.8" r="2.5"/><circle cx="595.9" cy="388.6" r="2.5"/><circle cx="598.8" cy="389.4" r="2.5"/><circle cx="601.4" cy="389.7" r="2.5"/><circle cx="603.2" cy="388.4" r="2.5"/><circle cx="605.9" cy="389.5" r="2.5"/><circle cx="609.1" cy="389.0" r="2.5"/><circle cx="610.5" cy="389.5" r="2.5"/><circle cx="613.9" cy="389.8" r="2.5"/><circle cx="588.2" cy="392.0" r="2.5"/><circle cx="592.3" cy="392.1" r="2.5"/><circle cx="593.8" cy="391.9" r="2.5"/><circle cx="597.4" cy="390.9" r="2.5"/><circle cx="599.4" cy="391.9" r="2.5"/><circle cx="601.1" cy="390.7" r="2.5"/><circle cx="604.4" cy="392.0" r="2.5"/><circle cx="607.4" cy="390.9" r="2.5"/><circle cx="609.3" cy="391.5" r="2.5"/><circle cx="613.1" cy="390.5" r="2.5"/><circle cx="590.6" cy="394.2" r="2.5"/><circle cx="593.3" cy="394.3" r="2.5"/><circle cx="595.4" cy="394.3" r="2.5"/><circle cx="598.2" cy="393.6" r="2.5"/><circle cx="600.1" cy="394.0" r="2.5"/><circle cx="602.5" cy="393.2" r="2.5"/><circle cx="605.7" cy="393.7" r="2.5"/><circle cx="608.8" cy="393.6" r="2.5"/><circle cx="611.8" cy="393.1" r="2.5"/><circle cx="589.3" cy="396.2" r="2.5"/><circle cx="592.2" cy="396.6" r="2.5"/><circle cx="593.9" cy="396.4" r="2.5"/><circle cx="597.3" cy="395.3" r="2.5"/><circle cx="599.0" cy="396.4" r="2.5"/><circle cx="601.9" cy="396.1" r="2.5"/><circle cx="603.9" cy="396.4" r="2.5"/><circle cx="606.5" cy="396.1" r="2.5"/><circle cx="587.6" cy="397.2" r="2.5"/><circle cx="589.7" cy="398.9" r="2.5"/><circle cx="592.7" cy="397.8" r="2.5"/><circle cx="594.9" cy="397.3" r="2.5"/><circle cx="598.2" cy="397.9" r="2.5"/><circle cx="601.0" cy="398.1" r="2.5"/><circle cx="588.4" cy="400.7" r="2.5"/><circle cx="591.1" cy="401.2" r="2.5"/><circle cx="594.2" cy="400.3" r="2.5"/><circle cx="597.5" cy="400.4" r="2.5"/><circle cx="591.0" cy="402.4" r="2.5"/><circle cx="592.3" cy="402.2" r="2.5"/></g>
<rect x="398.8" y="325.4" width="275.8" height="205.1" fill="none" stroke="#4a4a4a" stroke-width="1.1"/>
<path d="M398.80 530.5v2.7M398.8 530.50h-2.7M433.28 530.5v2.7M398.8 504.86h-2.7M467.75 530.5v2.7M398.8 479.23h-2.7M502.23 530.5v2.7M398.8 453.59h-2.7M536.70 530.5v2.7M398.8 427.95h-2.7M571.17 530.5v2.7M398.8 402.31h-2.7M605.65 530.5v2.7M398.8 376.67h-2.7M640.12 530.5v2.7M398.8 351.04h-2.7M674.60 530.5v2.7M398.8 325.40h-2.7" stroke="#4a4a4a" stroke-width="1.1" fill="none"/>
<g font-size="8.2" fill="#333" stroke="#333" stroke-width="0.05">
<text x="387.8" y="542.2" textLength="22.1" lengthAdjust="spacingAndGlyphs">−10.0</text>
<text x="370.2" y="533.4" textLength="22.1" lengthAdjust="spacingAndGlyphs">−10.0</text>
<text x="424.5" y="542.2" textLength="17.5" lengthAdjust="spacingAndGlyphs">−7.5</text>
<text x="374.8" y="507.8" textLength="17.5" lengthAdjust="spacingAndGlyphs">−7.5</text>
<text x="459.0" y="542.2" textLength="17.5" lengthAdjust="spacingAndGlyphs">−5.0</text>
<text x="374.8" y="482.2" textLength="17.5" lengthAdjust="spacingAndGlyphs">−5.0</text>
<text x="493.5" y="542.2" textLength="17.5" lengthAdjust="spacingAndGlyphs">−2.5</text>
<text x="374.8" y="456.5" textLength="17.5" lengthAdjust="spacingAndGlyphs">−2.5</text>
<text x="531.0" y="542.2" textLength="11.4" lengthAdjust="spacingAndGlyphs">0.0</text>
<text x="380.9" y="430.9" textLength="11.4" lengthAdjust="spacingAndGlyphs">0.0</text>
<text x="565.5" y="542.2" textLength="11.4" lengthAdjust="spacingAndGlyphs">2.5</text>
<text x="380.9" y="405.2" textLength="11.4" lengthAdjust="spacingAndGlyphs">2.5</text>
<text x="599.9" y="542.2" textLength="11.4" lengthAdjust="spacingAndGlyphs">5.0</text>
<text x="380.9" y="379.6" textLength="11.4" lengthAdjust="spacingAndGlyphs">5.0</text>
<text x="634.4" y="542.2" textLength="11.4" lengthAdjust="spacingAndGlyphs">7.5</text>
<text x="380.9" y="354.0" textLength="11.4" lengthAdjust="spacingAndGlyphs">7.5</text>
<text x="666.6" y="542.2" textLength="16.0" lengthAdjust="spacingAndGlyphs">10.0</text>
<text x="376.3" y="328.3" textLength="16.0" lengthAdjust="spacingAndGlyphs">10.0</text>
</g>
<text x="408.3" y="319.8" font-size="15.3" fill="#222" stroke="#222" stroke-width="0.08" textLength="256.3" lengthAdjust="spacingAndGlyphs">Bicalutamide[pubchem_id=2375]</text>
<text x="427.0" y="345.6" font-size="16.0" fill="#222" stroke="#222" stroke-width="0.08" textLength="159.6" lengthAdjust="spacingAndGlyphs">Pearson&#39;s r = 0.3708</text>
<text x="427.0" y="361.0" font-size="16.0" fill="#222" stroke="#222" stroke-width="0.08" textLength="172.1" lengthAdjust="spacingAndGlyphs">Spearman&#39;s r= 0.3622</text>
<text x="427.0" y="376.1" font-size="16.0" fill="#222" stroke="#222" stroke-width="0.08" textLength="70.0" lengthAdjust="spacingAndGlyphs">n = 1004</text>
<text x="456.0" y="555.4" font-size="16.5" fill="#222" stroke="#222" stroke-width="0.08" textLength="159.2" lengthAdjust="spacingAndGlyphs">Observed data(IC50)</text>
<text transform="translate(375.6 507.0) rotate(-90)" font-size="16.5" fill="#222" stroke="#222" stroke-width="0.08" textLength="158.5" lengthAdjust="spacingAndGlyphs">Predicted data(IC50)</text>
<text class="s" x="528.2" y="586.9" font-size="24.5" fill="#333" text-anchor="middle">D</text>
</g>
</svg></body></html>
